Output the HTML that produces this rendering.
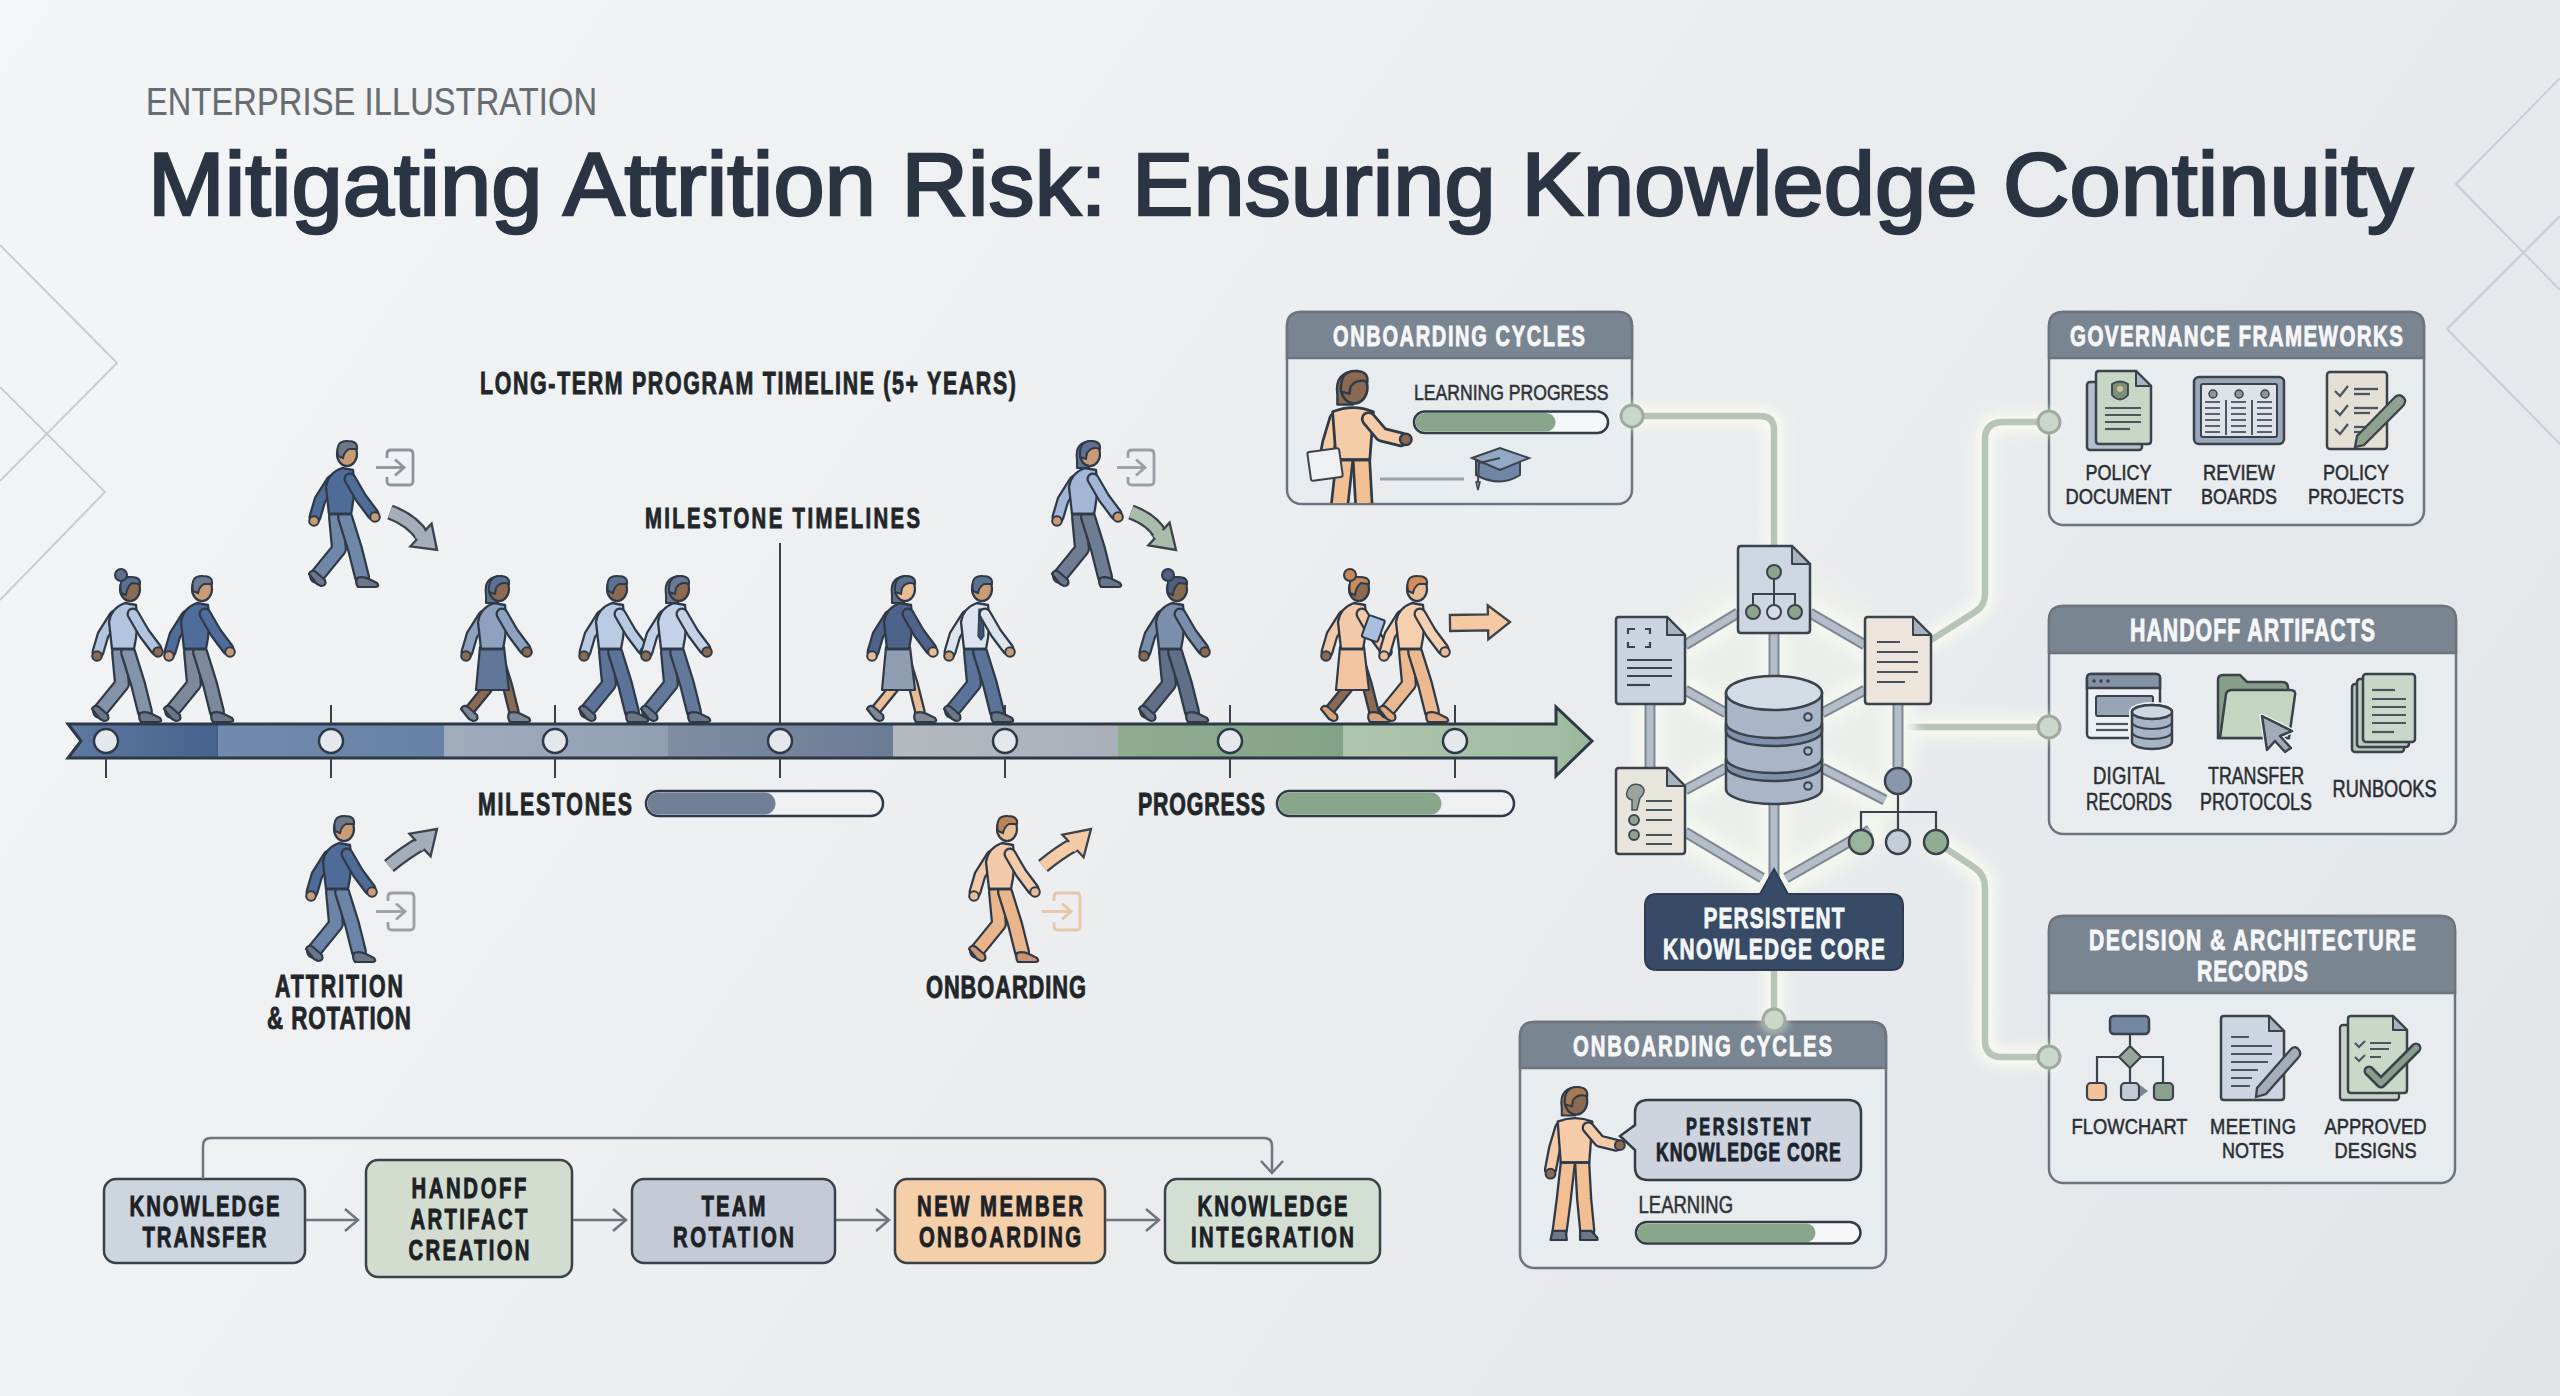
<!DOCTYPE html>
<html><head><meta charset="utf-8"><title>Mitigating Attrition Risk</title>
<style>html,body{margin:0;padding:0;background:#eceef1;}svg{display:block;font-family:"Liberation Sans", sans-serif;}</style>
</head><body>
<svg width="2560" height="1396" viewBox="0 0 2560 1396">
<defs>
<linearGradient id="bg" gradientUnits="userSpaceOnUse" x1="0" y1="0" x2="2365" y2="1667">
 <stop offset="0" stop-color="#f4f5f6"/><stop offset="1" stop-color="#e2e5e8"/>
</linearGradient>
<filter id="glow" filterUnits="userSpaceOnUse" x="0" y="0" width="2560" height="1396"><feGaussianBlur stdDeviation="6"/></filter>
<filter id="soft" filterUnits="userSpaceOnUse" x="0" y="0" width="2560" height="1396"><feGaussianBlur stdDeviation="3"/></filter>
</defs>
<rect x="0" y="0" width="2560" height="1396" fill="url(#bg)"/>
<g fill="none" stroke="#c9cdd2" stroke-width="2"><polyline points="0,245 117,363 0,481"/><polyline points="0,387 105,492 0,600"/><polyline points="2560,78 2456,184 2560,290"/><polyline points="2560,216 2447,329 2560,444"/></g>
<text transform="translate(146.0,115.3) scale(0.8527,1)" x="0" y="0" font-size="38.23" font-weight="normal" fill="#666c72" stroke="#666c72" stroke-width="0.2" textLength="528.9" lengthAdjust="spacing" >ENTERPRISE ILLUSTRATION</text>
<text transform="translate(148.0,215.3) scale(1.0257,1)" x="0" y="0" font-size="89.68" font-weight="normal" fill="#2a3443" stroke="#2a3443" stroke-width="2.6" textLength="2208.2" lengthAdjust="spacing" >Mitigating Attrition Risk: Ensuring Knowledge Continuity</text>
<text transform="translate(480.0,394.0) scale(0.7000,1)" x="0" y="0" font-size="30.52" font-weight="bold" fill="#222629" stroke="#222629" stroke-width="0.9" textLength="765.7" lengthAdjust="spacing" >LONG-TERM PROGRAM TIMELINE (5+ YEARS)</text>
<text transform="translate(645.0,528.0) scale(0.7000,1)" x="0" y="0" font-size="29.07" font-weight="bold" fill="#222629" stroke="#222629" stroke-width="0.9" textLength="392.9" lengthAdjust="spacing" >MILESTONE TIMELINES</text>
<line x1="780" y1="543" x2="780" y2="724" stroke="#3a4049" stroke-width="2"/>
<defs><linearGradient id="sg0" x1="0" y1="0" x2="1" y2="0"><stop offset="0" stop-color="#5f79a1"/><stop offset="1" stop-color="#46628c"/></linearGradient><linearGradient id="sg1" x1="0" y1="0" x2="1" y2="0"><stop offset="0" stop-color="#718aae"/><stop offset="1" stop-color="#6882a6"/></linearGradient><linearGradient id="sg2" x1="0" y1="0" x2="1" y2="0"><stop offset="0" stop-color="#a0adbd"/><stop offset="1" stop-color="#909fb4"/></linearGradient><linearGradient id="sg3" x1="0" y1="0" x2="1" y2="0"><stop offset="0" stop-color="#7e8da2"/><stop offset="1" stop-color="#6b7c95"/></linearGradient><linearGradient id="sg4" x1="0" y1="0" x2="1" y2="0"><stop offset="0" stop-color="#b5bac0"/><stop offset="1" stop-color="#a9b0b9"/></linearGradient><linearGradient id="sg5" x1="0" y1="0" x2="1" y2="0"><stop offset="0" stop-color="#8fac91"/><stop offset="1" stop-color="#83a386"/></linearGradient><linearGradient id="sg6" x1="0" y1="0" x2="1" y2="0"><stop offset="0" stop-color="#adc5ad"/><stop offset="1" stop-color="#a2bda3"/></linearGradient><linearGradient id="sgh" x1="0" y1="0" x2="1" y2="0"><stop offset="0" stop-color="#a2bda3"/><stop offset="1" stop-color="#98b599"/></linearGradient></defs>
<clipPath id="barclip"><path d="M68,724 L1556,724 L1556,707 L1592,741 L1556,776 L1556,758 L68,758 L81,741 Z"/></clipPath>
<g clip-path="url(#barclip)">
<rect x="68" y="700" width="151" height="80" fill="url(#sg0)"/>
<rect x="218" y="700" width="227" height="80" fill="url(#sg1)"/>
<rect x="444" y="700" width="225" height="80" fill="url(#sg2)"/>
<rect x="668" y="700" width="226" height="80" fill="url(#sg3)"/>
<rect x="893" y="700" width="226" height="80" fill="url(#sg4)"/>
<rect x="1118" y="700" width="226" height="80" fill="url(#sg5)"/>
<rect x="1343" y="700" width="214" height="80" fill="url(#sg6)"/>
<rect x="1556" y="700" width="40" height="80" fill="url(#sgh)"/>
</g>
<path d="M68,724 L1556,724 L1556,707 L1592,741 L1556,776 L1556,758 L68,758 L81,741 Z" fill="none" stroke="#2e3947" stroke-width="3" stroke-linejoin="miter"/>
<line x1="106" y1="758" x2="106" y2="778" stroke="#3a4049" stroke-width="2"/>
<circle cx="106" cy="741" r="12" fill="#e4e8ed" stroke="#2e3947" stroke-width="2.5"/>
<line x1="331" y1="758" x2="331" y2="778" stroke="#3a4049" stroke-width="2"/>
<line x1="331" y1="705" x2="331" y2="724" stroke="#3a4049" stroke-width="2"/>
<circle cx="331" cy="741" r="12" fill="#e4e8ed" stroke="#2e3947" stroke-width="2.5"/>
<line x1="555" y1="758" x2="555" y2="778" stroke="#3a4049" stroke-width="2"/>
<line x1="555" y1="705" x2="555" y2="724" stroke="#3a4049" stroke-width="2"/>
<circle cx="555" cy="741" r="12" fill="#e4e8ed" stroke="#2e3947" stroke-width="2.5"/>
<line x1="780" y1="758" x2="780" y2="778" stroke="#3a4049" stroke-width="2"/>
<circle cx="780" cy="741" r="12" fill="#e4e8ed" stroke="#2e3947" stroke-width="2.5"/>
<line x1="1005" y1="758" x2="1005" y2="778" stroke="#3a4049" stroke-width="2"/>
<line x1="1005" y1="705" x2="1005" y2="724" stroke="#3a4049" stroke-width="2"/>
<circle cx="1005" cy="741" r="12" fill="#e4e8ed" stroke="#2e3947" stroke-width="2.5"/>
<line x1="1230" y1="758" x2="1230" y2="778" stroke="#3a4049" stroke-width="2"/>
<line x1="1230" y1="705" x2="1230" y2="724" stroke="#3a4049" stroke-width="2"/>
<circle cx="1230" cy="741" r="12" fill="#e4e8ed" stroke="#2e3947" stroke-width="2.5"/>
<line x1="1455" y1="758" x2="1455" y2="778" stroke="#3a4049" stroke-width="2"/>
<line x1="1455" y1="705" x2="1455" y2="724" stroke="#3a4049" stroke-width="2"/>
<circle cx="1455" cy="741" r="12" fill="#e4e8ed" stroke="#2e3947" stroke-width="2.5"/>
<text transform="translate(478.0,815.0) scale(0.7000,1)" x="0" y="0" font-size="30.52" font-weight="bold" fill="#222629" stroke="#222629" stroke-width="0.9" textLength="220.0" lengthAdjust="spacing" >MILESTONES</text>
<rect x="646" y="791" width="237" height="25" rx="12.5" fill="#eef0f2" stroke="#2e3947" stroke-width="2.5"/>
<rect x="647.5" y="792.5" width="128" height="22" rx="11" fill="#6f8096"/>
<text transform="translate(1138.0,815.0) scale(0.7000,1)" x="0" y="0" font-size="30.52" font-weight="bold" fill="#222629" stroke="#222629" stroke-width="0.9" textLength="181.4" lengthAdjust="spacing" >PROGRESS</text>
<rect x="1277" y="791" width="237" height="25" rx="12.5" fill="#eef0f2" stroke="#2e3947" stroke-width="2.5"/>
<rect x="1278.5" y="792.5" width="163" height="22" rx="11" fill="#88a68a"/>
<text transform="translate(275.0,997.0) scale(0.7000,1)" x="0" y="0" font-size="30.52" font-weight="bold" fill="#222629" stroke="#222629" stroke-width="0.9" textLength="182.9" lengthAdjust="spacing" >ATTRITION</text>
<text transform="translate(267.0,1029.0) scale(0.7000,1)" x="0" y="0" font-size="31.98" font-weight="bold" fill="#222629" stroke="#222629" stroke-width="0.9" textLength="205.7" lengthAdjust="spacing" >&amp; ROTATION</text>
<text transform="translate(926.0,997.6) scale(0.7000,1)" x="0" y="0" font-size="31.25" font-weight="bold" fill="#222629" stroke="#222629" stroke-width="0.9" textLength="228.6" lengthAdjust="spacing" >ONBOARDING</text>
<rect x="104" y="1179" width="201" height="84" rx="12" fill="#cdd5df" stroke="#3a4149" stroke-width="2.5"/><text transform="translate(129.5,1215.5) scale(0.7000,1)" x="0" y="0" font-size="29.07" font-weight="bold" fill="#1c2126" stroke="#1c2126" stroke-width="0.9" textLength="214.3" lengthAdjust="spacing" >KNOWLEDGE</text><text transform="translate(142.5,1246.5) scale(0.7000,1)" x="0" y="0" font-size="29.07" font-weight="bold" fill="#1c2126" stroke="#1c2126" stroke-width="0.9" textLength="177.1" lengthAdjust="spacing" >TRANSFER</text>
<rect x="366" y="1160" width="206" height="117" rx="12" fill="#d2ddd0" stroke="#3a4149" stroke-width="2.5"/><text transform="translate(411.5,1197.5) scale(0.7000,1)" x="0" y="0" font-size="29.07" font-weight="bold" fill="#1c2126" stroke="#1c2126" stroke-width="0.9" textLength="164.3" lengthAdjust="spacing" >HANDOFF</text><text transform="translate(410.5,1228.5) scale(0.7000,1)" x="0" y="0" font-size="29.07" font-weight="bold" fill="#1c2126" stroke="#1c2126" stroke-width="0.9" textLength="167.1" lengthAdjust="spacing" >ARTIFACT</text><text transform="translate(408.5,1259.5) scale(0.7000,1)" x="0" y="0" font-size="29.07" font-weight="bold" fill="#1c2126" stroke="#1c2126" stroke-width="0.9" textLength="172.9" lengthAdjust="spacing" >CREATION</text>
<rect x="632" y="1179" width="203" height="84" rx="12" fill="#c4cbd7" stroke="#3a4149" stroke-width="2.5"/><text transform="translate(701.5,1215.5) scale(0.7000,1)" x="0" y="0" font-size="29.07" font-weight="bold" fill="#1c2126" stroke="#1c2126" stroke-width="0.9" textLength="91.4" lengthAdjust="spacing" >TEAM</text><text transform="translate(673.0,1246.5) scale(0.7000,1)" x="0" y="0" font-size="29.07" font-weight="bold" fill="#1c2126" stroke="#1c2126" stroke-width="0.9" textLength="172.9" lengthAdjust="spacing" >ROTATION</text>
<rect x="895" y="1179" width="210" height="84" rx="12" fill="#f5cfa9" stroke="#3a4149" stroke-width="2.5"/><text transform="translate(917.0,1215.5) scale(0.7000,1)" x="0" y="0" font-size="29.07" font-weight="bold" fill="#1c2126" stroke="#1c2126" stroke-width="0.9" textLength="237.1" lengthAdjust="spacing" >NEW MEMBER</text><text transform="translate(919.0,1246.5) scale(0.7000,1)" x="0" y="0" font-size="29.07" font-weight="bold" fill="#1c2126" stroke="#1c2126" stroke-width="0.9" textLength="231.4" lengthAdjust="spacing" >ONBOARDING</text>
<rect x="1165" y="1179" width="215" height="84" rx="12" fill="#d4dfd4" stroke="#3a4149" stroke-width="2.5"/><text transform="translate(1197.5,1215.5) scale(0.7000,1)" x="0" y="0" font-size="29.07" font-weight="bold" fill="#1c2126" stroke="#1c2126" stroke-width="0.9" textLength="214.3" lengthAdjust="spacing" >KNOWLEDGE</text><text transform="translate(1191.0,1246.5) scale(0.7000,1)" x="0" y="0" font-size="29.07" font-weight="bold" fill="#1c2126" stroke="#1c2126" stroke-width="0.9" textLength="232.9" lengthAdjust="spacing" >INTEGRATION</text>
<line x1="306" y1="1220" x2="358" y2="1220" stroke="#6e757d" stroke-width="2.5"/><polyline points="345,1209 358,1220 345,1231" fill="none" stroke="#6e757d" stroke-width="2.5"/>
<line x1="573" y1="1220" x2="626" y2="1220" stroke="#6e757d" stroke-width="2.5"/><polyline points="613,1209 626,1220 613,1231" fill="none" stroke="#6e757d" stroke-width="2.5"/>
<line x1="836" y1="1220" x2="889" y2="1220" stroke="#6e757d" stroke-width="2.5"/><polyline points="876,1209 889,1220 876,1231" fill="none" stroke="#6e757d" stroke-width="2.5"/>
<line x1="1106" y1="1220" x2="1159" y2="1220" stroke="#6e757d" stroke-width="2.5"/><polyline points="1146,1209 1159,1220 1146,1231" fill="none" stroke="#6e757d" stroke-width="2.5"/>
<path d="M203,1179 L203,1146 Q203,1138 211,1138 L1264,1138 Q1272,1138 1272,1146 L1272,1172" fill="none" stroke="#6e757d" stroke-width="2.5"/>
<polyline points="1261,1161 1272,1173 1283,1161" fill="none" stroke="#6e757d" stroke-width="2.5"/>
<rect x="1287" y="312" width="345" height="192" rx="14" fill="#e9ecef" stroke="#6c747d" stroke-width="2.5"/><path d="M1287,358 L1287,326 Q1287,312 1301,312 L1618,312 Q1632,312 1632,326 L1632,358 Z" fill="#7a8592" stroke="#6c747d" stroke-width="2.5"/><text transform="translate(1333.0,345.7) scale(0.7000,1)" x="0" y="0" font-size="28.63" font-weight="bold" fill="#f6f7f8" stroke="#f6f7f8" stroke-width="0.9" textLength="360.0" lengthAdjust="spacing" >ONBOARDING CYCLES</text>
<rect x="2049" y="312" width="375" height="213" rx="14" fill="#e9ecef" stroke="#6c747d" stroke-width="2.5"/><path d="M2049,358 L2049,326 Q2049,312 2063,312 L2410,312 Q2424,312 2424,326 L2424,358 Z" fill="#7a8592" stroke="#6c747d" stroke-width="2.5"/><text transform="translate(2070.0,346.0) scale(0.7000,1)" x="0" y="0" font-size="29.36" font-weight="bold" fill="#f6f7f8" stroke="#f6f7f8" stroke-width="0.9" textLength="475.7" lengthAdjust="spacing" >GOVERNANCE FRAMEWORKS</text>
<rect x="2049" y="606" width="407" height="228" rx="14" fill="#e9ecef" stroke="#6c747d" stroke-width="2.5"/><path d="M2049,653 L2049,620 Q2049,606 2063,606 L2442,606 Q2456,606 2456,620 L2456,653 Z" fill="#7a8592" stroke="#6c747d" stroke-width="2.5"/><text transform="translate(2130.0,641.0) scale(0.7000,1)" x="0" y="0" font-size="30.52" font-weight="bold" fill="#f6f7f8" stroke="#f6f7f8" stroke-width="0.9" textLength="350.0" lengthAdjust="spacing" >HANDOFF ARTIFACTS</text>
<rect x="2049" y="916" width="406" height="267" rx="14" fill="#e9ecef" stroke="#6c747d" stroke-width="2.5"/><path d="M2049,993 L2049,930 Q2049,916 2063,916 L2441,916 Q2455,916 2455,930 L2455,993 Z" fill="#7a8592" stroke="#6c747d" stroke-width="2.5"/><text transform="translate(2089.0,949.8) scale(0.7000,1)" x="0" y="0" font-size="30.23" font-weight="bold" fill="#f6f7f8" stroke="#f6f7f8" stroke-width="0.9" textLength="467.1" lengthAdjust="spacing" >DECISION &amp; ARCHITECTURE</text><text transform="translate(2197.0,980.6) scale(0.7000,1)" x="0" y="0" font-size="30.38" font-weight="bold" fill="#f6f7f8" stroke="#f6f7f8" stroke-width="0.9" textLength="158.6" lengthAdjust="spacing" >RECORDS</text>
<rect x="1520" y="1022" width="366" height="246" rx="14" fill="#e9ecef" stroke="#6c747d" stroke-width="2.5"/><path d="M1520,1068 L1520,1036 Q1520,1022 1534,1022 L1872,1022 Q1886,1022 1886,1036 L1886,1068 Z" fill="#7a8592" stroke="#6c747d" stroke-width="2.5"/><text transform="translate(1573.0,1056.0) scale(0.7000,1)" x="0" y="0" font-size="29.07" font-weight="bold" fill="#f6f7f8" stroke="#f6f7f8" stroke-width="0.9" textLength="370.0" lengthAdjust="spacing" >ONBOARDING CYCLES</text>
<path d="M1632,416 L1760,416 Q1774,416 1774,430 L1774,546 M1931,640 L1975,612 Q1985,606 1985,594 L1985,440 Q1985,422 2003,422 L2049,422 M1910,727 L2049,727 M1936,842 L1975,868 Q1985,875 1985,888 L1985,1040 Q1985,1057 2002,1057 L2049,1057 M1774,968 L1774,1020" fill="none" stroke="#f7f9f0" stroke-width="22" stroke-linecap="round" opacity="0.95" filter="url(#glow)"/>
<path d="M1632,416 L1760,416 Q1774,416 1774,430 L1774,546 M1931,640 L1975,612 Q1985,606 1985,594 L1985,440 Q1985,422 2003,422 L2049,422 M1910,727 L2049,727 M1936,842 L1975,868 Q1985,875 1985,888 L1985,1040 Q1985,1057 2002,1057 L2049,1057 M1774,968 L1774,1020" fill="none" stroke="#b7c5b8" stroke-width="6.5" stroke-linecap="round"/>
<circle cx="1632" cy="416" r="11" fill="#ccd7cc" stroke="#9cab9c" stroke-width="3"/>
<circle cx="2049" cy="422" r="11" fill="#ccd7cc" stroke="#9cab9c" stroke-width="3"/>
<circle cx="2049" cy="727" r="11" fill="#ccd7cc" stroke="#9cab9c" stroke-width="3"/>
<circle cx="2049" cy="1057" r="11" fill="#ccd7cc" stroke="#9cab9c" stroke-width="3"/>
<circle cx="1774" cy="1020" r="11" fill="#ccd7cc" stroke="#9cab9c" stroke-width="3"/>
<ellipse cx="1774" cy="730" rx="140" ry="165" fill="#eef3ea" opacity="0.55" filter="url(#glow)"/>
<line x1="1685" y1="645" x2="1738" y2="613" stroke="#f5f8f0" stroke-width="32" stroke-linecap="round" opacity="0.85" filter="url(#glow)"/>
<line x1="1810" y1="613" x2="1865" y2="645" stroke="#f5f8f0" stroke-width="32" stroke-linecap="round" opacity="0.85" filter="url(#glow)"/>
<line x1="1774" y1="633" x2="1774" y2="676" stroke="#f5f8f0" stroke-width="32" stroke-linecap="round" opacity="0.85" filter="url(#glow)"/>
<line x1="1685" y1="690" x2="1726" y2="713" stroke="#f5f8f0" stroke-width="32" stroke-linecap="round" opacity="0.85" filter="url(#glow)"/>
<line x1="1822" y1="713" x2="1865" y2="690" stroke="#f5f8f0" stroke-width="32" stroke-linecap="round" opacity="0.85" filter="url(#glow)"/>
<line x1="1650" y1="704" x2="1650" y2="768" stroke="#f5f8f0" stroke-width="32" stroke-linecap="round" opacity="0.85" filter="url(#glow)"/>
<line x1="1898" y1="704" x2="1898" y2="767" stroke="#f5f8f0" stroke-width="32" stroke-linecap="round" opacity="0.85" filter="url(#glow)"/>
<line x1="1685" y1="790" x2="1726" y2="768" stroke="#f5f8f0" stroke-width="32" stroke-linecap="round" opacity="0.85" filter="url(#glow)"/>
<line x1="1822" y1="768" x2="1885" y2="800" stroke="#f5f8f0" stroke-width="32" stroke-linecap="round" opacity="0.85" filter="url(#glow)"/>
<line x1="1685" y1="832" x2="1762" y2="878" stroke="#f5f8f0" stroke-width="32" stroke-linecap="round" opacity="0.85" filter="url(#glow)"/>
<line x1="1786" y1="878" x2="1870" y2="830" stroke="#f5f8f0" stroke-width="32" stroke-linecap="round" opacity="0.85" filter="url(#glow)"/>
<line x1="1774" y1="805" x2="1774" y2="878" stroke="#f5f8f0" stroke-width="32" stroke-linecap="round" opacity="0.85" filter="url(#glow)"/>
<line x1="1685" y1="645" x2="1738" y2="613" stroke="#7d8793" stroke-width="11"/>
<line x1="1685" y1="645" x2="1738" y2="613" stroke="#b4bdc8" stroke-width="7"/>
<line x1="1810" y1="613" x2="1865" y2="645" stroke="#7d8793" stroke-width="11"/>
<line x1="1810" y1="613" x2="1865" y2="645" stroke="#b4bdc8" stroke-width="7"/>
<line x1="1774" y1="633" x2="1774" y2="676" stroke="#7d8793" stroke-width="11"/>
<line x1="1774" y1="633" x2="1774" y2="676" stroke="#b4bdc8" stroke-width="7"/>
<line x1="1685" y1="690" x2="1726" y2="713" stroke="#7d8793" stroke-width="11"/>
<line x1="1685" y1="690" x2="1726" y2="713" stroke="#b4bdc8" stroke-width="7"/>
<line x1="1822" y1="713" x2="1865" y2="690" stroke="#7d8793" stroke-width="11"/>
<line x1="1822" y1="713" x2="1865" y2="690" stroke="#b4bdc8" stroke-width="7"/>
<line x1="1650" y1="704" x2="1650" y2="768" stroke="#7d8793" stroke-width="11"/>
<line x1="1650" y1="704" x2="1650" y2="768" stroke="#b4bdc8" stroke-width="7"/>
<line x1="1898" y1="704" x2="1898" y2="767" stroke="#7d8793" stroke-width="11"/>
<line x1="1898" y1="704" x2="1898" y2="767" stroke="#b4bdc8" stroke-width="7"/>
<line x1="1685" y1="790" x2="1726" y2="768" stroke="#7d8793" stroke-width="11"/>
<line x1="1685" y1="790" x2="1726" y2="768" stroke="#b4bdc8" stroke-width="7"/>
<line x1="1822" y1="768" x2="1885" y2="800" stroke="#7d8793" stroke-width="11"/>
<line x1="1822" y1="768" x2="1885" y2="800" stroke="#b4bdc8" stroke-width="7"/>
<line x1="1685" y1="832" x2="1762" y2="878" stroke="#7d8793" stroke-width="11"/>
<line x1="1685" y1="832" x2="1762" y2="878" stroke="#b4bdc8" stroke-width="7"/>
<line x1="1786" y1="878" x2="1870" y2="830" stroke="#7d8793" stroke-width="11"/>
<line x1="1786" y1="878" x2="1870" y2="830" stroke="#b4bdc8" stroke-width="7"/>
<line x1="1774" y1="805" x2="1774" y2="878" stroke="#7d8793" stroke-width="11"/>
<line x1="1774" y1="805" x2="1774" y2="878" stroke="#b4bdc8" stroke-width="7"/>
<path d="M1741,546 L1792,546 L1810,564 L1810,630 Q1810,633 1807,633 L1741,633 Q1738,633 1738,630 L1738,549 Q1738,546 1741,546 Z" fill="#cdd6e1" stroke="#3a424c" stroke-width="2.5"/><path d="M1792,546 L1792,564 L1810,564 Z" fill="#a9b3c0" stroke="#3a424c" stroke-width="2" stroke-linejoin="round"/>
<g stroke="#3a424c" stroke-width="2" fill="none"><line x1="1774" y1="577" x2="1774" y2="594"/><polyline points="1753,611 1753,594 1795,594 1795,611"/><line x1="1774" y1="594" x2="1774" y2="611"/></g>
<circle cx="1774" cy="572" r="7" fill="#8aa58c" stroke="#3a424c" stroke-width="2"/>
<circle cx="1753" cy="612" r="7" fill="#8aa58c" stroke="#3a424c" stroke-width="2"/>
<circle cx="1774" cy="612" r="7" fill="#d6dde6" stroke="#3a424c" stroke-width="2"/>
<circle cx="1795" cy="612" r="7" fill="#8aa58c" stroke="#3a424c" stroke-width="2"/>
<path d="M1619,617 L1667,617 L1685,635 L1685,701 Q1685,704 1682,704 L1619,704 Q1616,704 1616,701 L1616,620 Q1616,617 1619,617 Z" fill="#cbd4df" stroke="#3a424c" stroke-width="2.5"/><path d="M1667,617 L1667,635 L1685,635 Z" fill="#a9b3c0" stroke="#3a424c" stroke-width="2" stroke-linejoin="round"/>
<g stroke="#3a424c" stroke-width="2.2" fill="none"><polyline points="1628,634 1628,629 1635,629"/><polyline points="1645,629 1650,629 1650,634"/><polyline points="1628,642 1628,647 1635,647"/><polyline points="1645,647 1650,647 1650,642"/><line x1="1627" y1="660" x2="1672" y2="660"/><line x1="1627" y1="668" x2="1672" y2="668"/><line x1="1627" y1="676" x2="1672" y2="676"/><line x1="1627" y1="685" x2="1650" y2="685"/></g>
<path d="M1868,617 L1913,617 L1931,635 L1931,701 Q1931,704 1928,704 L1868,704 Q1865,704 1865,701 L1865,620 Q1865,617 1868,617 Z" fill="#ede5dc" stroke="#3a424c" stroke-width="2.5"/><path d="M1913,617 L1913,635 L1931,635 Z" fill="#a9b3c0" stroke="#3a424c" stroke-width="2" stroke-linejoin="round"/>
<g stroke="#4a525b" stroke-width="2" fill="none"><line x1="1877" y1="642" x2="1900" y2="642"/><line x1="1877" y1="652" x2="1918" y2="652"/><line x1="1877" y1="662" x2="1918" y2="662"/><line x1="1877" y1="672" x2="1918" y2="672"/><line x1="1877" y1="682" x2="1905" y2="682"/></g>
<path d="M1619,768 L1667,768 L1685,786 L1685,851 Q1685,854 1682,854 L1619,854 Q1616,854 1616,851 L1616,771 Q1616,768 1619,768 Z" fill="#e8e5dc" stroke="#3a424c" stroke-width="2.5"/><path d="M1667,768 L1667,786 L1685,786 Z" fill="#a9b3c0" stroke="#3a424c" stroke-width="2" stroke-linejoin="round"/>
<path d="M1627,792 Q1630,782 1640,785 Q1648,790 1640,798 L1637,810 L1632,810 L1632,800 Q1625,798 1627,792 Z" fill="#9aa69a" stroke="#4a525b" stroke-width="1.5"/>
<circle cx="1634" cy="820" r="5" fill="#8fa090" stroke="#3a424c" stroke-width="1.8"/><circle cx="1634" cy="835" r="5" fill="#8fa090" stroke="#3a424c" stroke-width="1.8"/>
<g stroke="#4a525b" stroke-width="2" fill="none"><line x1="1646" y1="801" x2="1672" y2="801"/><line x1="1646" y1="810" x2="1672" y2="810"/><line x1="1646" y1="820" x2="1672" y2="820"/><line x1="1646" y1="835" x2="1672" y2="835"/><line x1="1646" y1="844" x2="1672" y2="844"/></g>
<path d="M1726,693 L1726,789 A48,15 0 0 0 1822,789 L1822,693 Z" fill="#a9b6c7" stroke="#3a424c" stroke-width="2.5"/>
<path d="M1726,723 A48,15 0 0 0 1822,723 L1822,731 A48,15 0 0 1 1726,731 Z" fill="#7f92ad" stroke="#3a424c" stroke-width="2.5"/>
<path d="M1726,758 A48,15 0 0 0 1822,758 L1822,766 A48,15 0 0 1 1726,766 Z" fill="#7f92ad" stroke="#3a424c" stroke-width="2.5"/>
<ellipse cx="1774" cy="693" rx="48" ry="17" fill="#d3dbe5" stroke="#3a424c" stroke-width="2.5"/>
<circle cx="1808" cy="717" r="3.8" fill="none" stroke="#3a424c" stroke-width="2"/>
<circle cx="1808" cy="751" r="3.8" fill="none" stroke="#3a424c" stroke-width="2"/>
<circle cx="1808" cy="786" r="3.8" fill="none" stroke="#3a424c" stroke-width="2"/>
<g stroke="#3a424c" stroke-width="2.2" fill="none"><line x1="1898" y1="795" x2="1898" y2="842"/><polyline points="1861,830 1861,812 1936,812 1936,830"/></g>
<circle cx="1898" cy="781" r="13" fill="#8997ad" stroke="#3a424c" stroke-width="2.5"/>
<circle cx="1861" cy="842" r="12" fill="#9bb59c" stroke="#3a424c" stroke-width="2.5"/>
<circle cx="1898" cy="842" r="12" fill="#c5cdda" stroke="#3a424c" stroke-width="2.5"/>
<circle cx="1936" cy="842" r="12" fill="#8fae91" stroke="#3a424c" stroke-width="2.5"/>
<path d="M1659,894 L1760,894 L1774,869 L1788,894 L1891,894 Q1903,894 1903,906 L1903,958 Q1903,970 1891,970 L1657,970 Q1645,970 1645,958 L1645,906 Q1645,894 1657,894 Z" fill="#374b66" stroke="#2e3c50" stroke-width="2"/>
<text transform="translate(1703.5,927.5) scale(0.7000,1)" x="0" y="0" font-size="29.80" font-weight="bold" fill="#f4f6f8" stroke="#f4f6f8" stroke-width="0.9" textLength="201.4" lengthAdjust="spacing" >PERSISTENT</text>
<text transform="translate(1663.0,958.5) scale(0.7000,1)" x="0" y="0" font-size="29.80" font-weight="bold" fill="#f4f6f8" stroke="#f4f6f8" stroke-width="0.9" textLength="317.1" lengthAdjust="spacing" >KNOWLEDGE CORE</text>
<text transform="translate(1414.0,400.0) scale(0.7807,1)" x="0" y="0" font-size="22.53" font-weight="normal" fill="#2f3338" stroke="#2f3338" stroke-width="0.55" textLength="249.1" lengthAdjust="spacing" >LEARNING PROGRESS</text>
<rect x="1414" y="411.5" width="194" height="21.5" rx="10.75" fill="#f6f7f8" stroke="#333b44" stroke-width="2.5"/>
<rect x="1415.5" y="413" width="140" height="18.5" rx="9.25" fill="#88a68a"/>
<line x1="1380" y1="479" x2="1464" y2="479" stroke="#9aa0a6" stroke-width="3"/>
<path d="M1476,461 L1476,475 Q1500,488 1520,475 L1520,461 Z" fill="#6f86a6" stroke="#3a424c" stroke-width="2"/>
<path d="M1472,458 L1500,448 L1529,458 L1500,470 Z" fill="#93a8c2" stroke="#3a424c" stroke-width="2"/>
<path d="M1500,458 L1479,463 L1478,482" fill="none" stroke="#3a424c" stroke-width="2"/><path d="M1476,482 L1480,482 L1478,490 Z" fill="#8aa" stroke="#3a424c" stroke-width="1.5"/>
<rect x="2087" y="382" width="55" height="68" rx="3" fill="#b4bfcd" stroke="#3a424c" stroke-width="2.5"/>
<path d="M2099,371 L2136,371 L2151,386 L2151,441 Q2151,444 2148,444 L2099,444 Q2096,444 2096,441 L2096,374 Q2096,371 2099,371 Z" fill="#c8d6c6" stroke="#3a424c" stroke-width="2.5"/><path d="M2136,371 L2136,386 L2151,386 Z" fill="#a9b6c6" stroke="#3a424c" stroke-width="2" stroke-linejoin="round"/>
<path d="M2112,384 Q2120,379 2128,384 L2128,395 Q2120,404 2112,395 Z" fill="#7b9079" stroke="#3a424c" stroke-width="1.8"/><circle cx="2120" cy="389" r="3" fill="#d8c090"/>
<g stroke="#4a5560" stroke-width="2.2"><line x1="2105" y1="408" x2="2141" y2="408"/><line x1="2105" y1="415" x2="2141" y2="415"/><line x1="2105" y1="422" x2="2141" y2="422"/><line x1="2105" y1="429" x2="2130" y2="429"/></g>
<rect x="2194" y="377" width="90" height="67" rx="5" fill="#9aa8b9" stroke="#3a424c" stroke-width="2.5"/>
<rect x="2201" y="384" width="76" height="53" rx="2" fill="#dfe3e9" stroke="#3a424c" stroke-width="2"/>
<g stroke="#4a5560" stroke-width="2"><line x1="2226" y1="400" x2="2226" y2="435"/><line x1="2252" y1="400" x2="2252" y2="435"/></g>
<circle cx="2213" cy="394" r="4" fill="#8d978f" stroke="#3a424c" stroke-width="1.5"/>
<circle cx="2239" cy="394" r="4" fill="#8d978f" stroke="#3a424c" stroke-width="1.5"/>
<circle cx="2265" cy="394" r="4" fill="#8d978f" stroke="#3a424c" stroke-width="1.5"/>
<g stroke="#4a5560" stroke-width="1.8"><line x1="2205" y1="402" x2="2220" y2="402"/><line x1="2205" y1="408" x2="2220" y2="408"/><line x1="2205" y1="414" x2="2220" y2="414"/><line x1="2205" y1="420" x2="2220" y2="420"/><line x1="2205" y1="426" x2="2220" y2="426"/><line x1="2205" y1="432" x2="2220" y2="432"/><line x1="2231" y1="402" x2="2246" y2="402"/><line x1="2231" y1="408" x2="2246" y2="408"/><line x1="2231" y1="414" x2="2246" y2="414"/><line x1="2231" y1="420" x2="2246" y2="420"/><line x1="2231" y1="426" x2="2246" y2="426"/><line x1="2231" y1="432" x2="2246" y2="432"/><line x1="2257" y1="402" x2="2272" y2="402"/><line x1="2257" y1="408" x2="2272" y2="408"/><line x1="2257" y1="414" x2="2272" y2="414"/><line x1="2257" y1="420" x2="2272" y2="420"/><line x1="2257" y1="426" x2="2272" y2="426"/><line x1="2257" y1="432" x2="2272" y2="432"/></g>
<rect x="2327" y="372" width="60" height="77" rx="3" fill="#e4e0d6" stroke="#3a424c" stroke-width="2.5"/>
<g fill="none" stroke="#4a5560" stroke-width="2.3"><polyline points="2335,391 2340,396 2348,386"/><line x1="2354" y1="389" x2="2378" y2="389"/><line x1="2354" y1="394" x2="2370" y2="394"/><polyline points="2335,410 2340,415 2348,405"/><line x1="2354" y1="408" x2="2378" y2="408"/><line x1="2354" y1="413" x2="2370" y2="413"/><polyline points="2335,429 2340,434 2348,424"/><line x1="2354" y1="427" x2="2378" y2="427"/><line x1="2354" y1="432" x2="2370" y2="432"/></g>
<path d="M2357,436 L2395,397 Q2400,393 2404,398 Q2407,402 2402,407 L2364,445 L2355,447 Z" fill="#8fa290" stroke="#3a424c" stroke-width="2.3"/>
<text transform="translate(2085.6,479.5) scale(0.7835,1)" x="0" y="0" font-size="22.97" font-weight="normal" fill="#2a2e33" stroke="#2a2e33" stroke-width="0.55" textLength="84.2" lengthAdjust="spacing" >POLICY</text>
<text transform="translate(2065.6,504.0) scale(0.7989,1)" x="0" y="0" font-size="22.97" font-weight="normal" fill="#2a2e33" stroke="#2a2e33" stroke-width="0.55" textLength="132.7" lengthAdjust="spacing" >DOCUMENT</text>
<text transform="translate(2203.0,479.5) scale(0.7948,1)" x="0" y="0" font-size="22.97" font-weight="normal" fill="#2a2e33" stroke="#2a2e33" stroke-width="0.55" textLength="90.6" lengthAdjust="spacing" >REVIEW</text>
<text transform="translate(2201.0,504.0) scale(0.7836,1)" x="0" y="0" font-size="22.97" font-weight="normal" fill="#2a2e33" stroke="#2a2e33" stroke-width="0.55" textLength="97.0" lengthAdjust="spacing" >BOARDS</text>
<text transform="translate(2323.0,479.5) scale(0.7835,1)" x="0" y="0" font-size="22.97" font-weight="normal" fill="#2a2e33" stroke="#2a2e33" stroke-width="0.55" textLength="84.2" lengthAdjust="spacing" >POLICY</text>
<text transform="translate(2308.0,504.0) scale(0.7837,1)" x="0" y="0" font-size="22.97" font-weight="normal" fill="#2a2e33" stroke="#2a2e33" stroke-width="0.55" textLength="122.5" lengthAdjust="spacing" >PROJECTS</text>
<rect x="2087" y="674" width="73" height="64" rx="4" fill="#eef0f2" stroke="#3a424c" stroke-width="2.5"/>
<path d="M2087,688 L2087,678 Q2087,674 2091,674 L2156,674 Q2160,674 2160,678 L2160,688 Z" fill="#8492a6" stroke="#3a424c" stroke-width="2.5"/>
<g fill="#3a424c"><circle cx="2094" cy="681" r="1.8"/><circle cx="2101" cy="681" r="1.8"/><circle cx="2108" cy="681" r="1.8"/></g>
<rect x="2096" y="696" width="57" height="20" rx="2" fill="#97a5b7" stroke="#3a424c" stroke-width="2"/>
<g stroke="#4a5560" stroke-width="2.2"><line x1="2096" y1="724" x2="2128" y2="724"/><line x1="2096" y1="730" x2="2128" y2="730"/></g>
<path d="M2132,712 A20,7 0 0 1 2172,712 L2172,742 A20,7 0 0 1 2132,742 Z" fill="#a7b4c5" stroke="#eef0f2" stroke-width="6"/>
<path d="M2132,712 A20,7 0 0 1 2172,712 L2172,742 A20,7 0 0 1 2132,742 Z" fill="#a7b4c5" stroke="#3a424c" stroke-width="2.5"/>
<ellipse cx="2152" cy="712" rx="20" ry="7" fill="#cfd7e1" stroke="#3a424c" stroke-width="2.5"/>
<g fill="none" stroke="#3a424c" stroke-width="2.2"><path d="M2132,722 A20,7 0 0 0 2172,722"/><path d="M2132,732 A20,7 0 0 0 2172,732"/></g>
<path d="M2218,680 Q2218,675 2223,675 L2240,675 L2247,682 L2282,682 Q2288,682 2288,688 L2288,738 L2218,738 Z" fill="#879f88" stroke="#3a424c" stroke-width="2.5"/>
<path d="M2226,694 Q2227,690 2232,690 L2290,690 Q2296,690 2295,695 L2289,738 L2220,738 Z" fill="#c4d6c2" stroke="#3a424c" stroke-width="2.5"/>
<path d="M2262,716 L2292,731 L2280,736 L2291,748 L2285,752 L2275,741 L2267,750 Z" fill="#a3abb8" stroke="#f0f2f4" stroke-width="5" stroke-linejoin="round"/>
<path d="M2262,716 L2292,731 L2280,736 L2291,748 L2285,752 L2275,741 L2267,750 Z" fill="#a3abb8" stroke="#3a424c" stroke-width="2.5" stroke-linejoin="round"/>
<rect x="2352" y="684" width="52" height="68" rx="3" fill="#b6c4b6" stroke="#3a424c" stroke-width="2.5"/>
<rect x="2357" y="679" width="52" height="68" rx="3" fill="#bccbbc" stroke="#3a424c" stroke-width="2.5"/>
<rect x="2363" y="674" width="52" height="68" rx="3" fill="#c9d7c8" stroke="#3a424c" stroke-width="2.5"/>
<g stroke="#4a5560" stroke-width="2.2"><line x1="2372" y1="690" x2="2395" y2="690"/><line x1="2372" y1="699" x2="2406" y2="699"/><line x1="2372" y1="707" x2="2406" y2="707"/><line x1="2372" y1="715" x2="2406" y2="715"/><line x1="2372" y1="723" x2="2406" y2="723"/><line x1="2372" y1="732" x2="2394" y2="732"/></g>
<text transform="translate(2093.0,784.4) scale(0.7861,1)" x="0" y="0" font-size="23.55" font-weight="normal" fill="#2a2e33" stroke="#2a2e33" stroke-width="0.55" textLength="91.6" lengthAdjust="spacing" >DIGITAL</text>
<text transform="translate(2086.0,809.5) scale(0.7304,1)" x="0" y="0" font-size="23.55" font-weight="normal" fill="#2a2e33" stroke="#2a2e33" stroke-width="0.55" textLength="117.7" lengthAdjust="spacing" >RECORDS</text>
<text transform="translate(2208.0,784.4) scale(0.7565,1)" x="0" y="0" font-size="23.55" font-weight="normal" fill="#2a2e33" stroke="#2a2e33" stroke-width="0.55" textLength="126.9" lengthAdjust="spacing" >TRANSFER</text>
<text transform="translate(2200.0,809.5) scale(0.7576,1)" x="0" y="0" font-size="23.55" font-weight="normal" fill="#2a2e33" stroke="#2a2e33" stroke-width="0.55" textLength="147.8" lengthAdjust="spacing" >PROTOCOLS</text>
<text transform="translate(2332.6,797.0) scale(0.7717,1)" x="0" y="0" font-size="23.55" font-weight="normal" fill="#2a2e33" stroke="#2a2e33" stroke-width="0.55" textLength="134.8" lengthAdjust="spacing" >RUNBOOKS</text>
<g stroke="#3a424c" stroke-width="2.2" fill="none"><line x1="2130" y1="1032" x2="2130" y2="1045"/><polyline points="2097,1083 2097,1057 2163,1057 2163,1083"/><line x1="2130" y1="1068" x2="2130" y2="1083"/></g>
<rect x="2110" y="1016" width="39" height="18" rx="4" fill="#7487a3" stroke="#3a424c" stroke-width="2.5"/>
<path d="M2130,1046 L2141,1057 L2130,1068 L2119,1057 Z" fill="#99a597" stroke="#3a424c" stroke-width="2.2"/>
<rect x="2087" y="1083" width="19" height="17" rx="4" fill="#f1c39c" stroke="#3a424c" stroke-width="2.2"/>
<rect x="2121" y="1083" width="18" height="17" rx="4" fill="#c3cad6" stroke="#3a424c" stroke-width="2.2"/>
<path d="M2140,1085 L2148,1091 L2140,1097 Z" fill="#7c8590"/>
<rect x="2154" y="1083" width="19" height="17" rx="4" fill="#8aa28b" stroke="#3a424c" stroke-width="2.2"/>
<path d="M2224,1016 L2269,1016 L2284,1031 L2284,1097 Q2284,1100 2281,1100 L2224,1100 Q2221,1100 2221,1097 L2221,1019 Q2221,1016 2224,1016 Z" fill="#cdd5e0" stroke="#3a424c" stroke-width="2.5"/><path d="M2269,1016 L2269,1031 L2284,1031 Z" fill="#a9b3c0" stroke="#3a424c" stroke-width="2" stroke-linejoin="round"/>
<g stroke="#4a5560" stroke-width="2"><line x1="2231" y1="1037" x2="2249" y2="1037"/><line x1="2231" y1="1046" x2="2272" y2="1046"/><line x1="2231" y1="1054" x2="2272" y2="1054"/><line x1="2231" y1="1062" x2="2268" y2="1062"/><line x1="2231" y1="1070" x2="2258" y2="1070"/><line x1="2231" y1="1078" x2="2252" y2="1078"/><line x1="2231" y1="1086" x2="2250" y2="1086"/></g>
<path d="M2257,1088 L2291,1049 Q2296,1045 2299,1050 Q2302,1054 2298,1058 L2266,1094 L2256,1097 Z" fill="#a5adb8" stroke="#3a424c" stroke-width="2.3"/>
<rect x="2340" y="1025" width="59" height="75" rx="3" fill="#c7d3c6" stroke="#3a424c" stroke-width="2.3"/>
<path d="M2351,1016 L2393,1016 L2407,1030 L2407,1090 Q2407,1093 2404,1093 L2351,1093 Q2348,1093 2348,1090 L2348,1019 Q2348,1016 2351,1016 Z" fill="#c9d8c7" stroke="#3a424c" stroke-width="2.5"/><path d="M2393,1016 L2393,1030 L2407,1030 Z" fill="#a9b3c0" stroke="#3a424c" stroke-width="2" stroke-linejoin="round"/>
<g fill="none" stroke="#4a5560" stroke-width="2"><polyline points="2355,1043 2359,1047 2365,1041"/><polyline points="2355,1057 2359,1061 2365,1055"/><line x1="2370" y1="1043" x2="2391" y2="1043"/><line x1="2370" y1="1049" x2="2389" y2="1049"/><line x1="2370" y1="1057" x2="2381" y2="1057"/></g>
<path d="M2369,1071 L2381,1083 L2416,1048" fill="none" stroke="#3a424c" stroke-width="11" stroke-linecap="round" stroke-linejoin="round"/>
<path d="M2369,1071 L2381,1083 L2416,1048" fill="none" stroke="#8b9f8c" stroke-width="6" stroke-linecap="round" stroke-linejoin="round"/>
<text transform="translate(2071.6,1133.8) scale(0.7976,1)" x="0" y="0" font-size="22.97" font-weight="normal" fill="#2a2e33" stroke="#2a2e33" stroke-width="0.55" textLength="145.4" lengthAdjust="spacing" >FLOWCHART</text>
<text transform="translate(2210.0,1133.8) scale(0.8000,1)" x="0" y="0" font-size="22.97" font-weight="normal" fill="#2a2e33" stroke="#2a2e33" stroke-width="0.55" textLength="107.5" lengthAdjust="spacing" >MEETING</text>
<text transform="translate(2222.0,1157.8) scale(0.7837,1)" x="0" y="0" font-size="22.97" font-weight="normal" fill="#2a2e33" stroke="#2a2e33" stroke-width="0.55" textLength="79.1" lengthAdjust="spacing" >NOTES</text>
<text transform="translate(2324.6,1133.8) scale(0.7992,1)" x="0" y="0" font-size="22.97" font-weight="normal" fill="#2a2e33" stroke="#2a2e33" stroke-width="0.55" textLength="127.6" lengthAdjust="spacing" >APPROVED</text>
<text transform="translate(2334.6,1157.8) scale(0.7933,1)" x="0" y="0" font-size="22.97" font-weight="normal" fill="#2a2e33" stroke="#2a2e33" stroke-width="0.55" textLength="103.4" lengthAdjust="spacing" >DESIGNS</text>
<path d="M1648,1100 L1848,1100 Q1861,1100 1861,1113 L1861,1167 Q1861,1180 1848,1180 L1648,1180 Q1635,1180 1635,1167 L1635,1150 L1620,1136 L1635,1125 L1635,1113 Q1635,1100 1648,1100 Z" fill="#cdd4de" stroke="#333b44" stroke-width="2.5"/>
<text transform="translate(1686.0,1134.5) scale(0.7000,1)" x="0" y="0" font-size="23.26" font-weight="bold" fill="#1c2430" stroke="#1c2430" stroke-width="0.9" textLength="178.0" lengthAdjust="spacing" >PERSISTENT</text>
<text transform="translate(1656.0,1161.0) scale(0.7000,1)" x="0" y="0" font-size="25.15" font-weight="bold" fill="#1c2430" stroke="#1c2430" stroke-width="0.9" textLength="263.9" lengthAdjust="spacing" >KNOWLEDGE CORE</text>
<text transform="translate(1638.6,1212.5) scale(0.7699,1)" x="0" y="0" font-size="23.98" font-weight="normal" fill="#2f3338" stroke="#2f3338" stroke-width="0.55" textLength="122.6" lengthAdjust="spacing" >LEARNING</text>
<rect x="1636" y="1222" width="224.5" height="21.6" rx="10.8" fill="#f6f7f8" stroke="#333b44" stroke-width="2.5"/>
<rect x="1637.5" y="1223.5" width="178" height="18.6" rx="9.3" fill="#88a68a"/>
<g transform="translate(128,722) scale(1.0)"><path d="M-13,-106 L-25,-87 L-30,-70" fill="none" stroke="#2f3a48" stroke-width="13.0" stroke-linecap="round" stroke-linejoin="round"/><path d="M-13,-106 L-25,-87 L-30,-70" fill="none" stroke="#b3c5de" stroke-width="8.5" stroke-linecap="round" stroke-linejoin="round"/><circle cx="-31" cy="-66" r="4.8" fill="#8c6a52" stroke="#2f3a48" stroke-width="2"/><path d="M-9,-70 L-6,-38 L-28,-11" fill="none" stroke="#2f3a48" stroke-width="16.0" stroke-linecap="round" stroke-linejoin="round"/><path d="M-9,-70 L-6,-38 L-28,-11" fill="none" stroke="#8393a8" stroke-width="11.5" stroke-linecap="round" stroke-linejoin="round"/><path d="M-36,-13 Q-34,-18 -29,-15 L-20,-7 Q-18,-1 -24,-1 L-28,-3 Z" fill="#6b7688" stroke="#2f3a48" stroke-width="2.2" stroke-linejoin="round"/><path d="M0,-70 L10,-38 L17,-10" fill="none" stroke="#2f3a48" stroke-width="16.0" stroke-linecap="round" stroke-linejoin="round"/><path d="M0,-70 L10,-38 L17,-10" fill="none" stroke="#8393a8" stroke-width="11.5" stroke-linecap="round" stroke-linejoin="round"/><path d="M12,-9 Q18,-11 24,-8 L32,-4 Q35,0 30,0 L13,0 Q10,-4 12,-9 Z" fill="#6b7688" stroke="#2f3a48" stroke-width="2.2" stroke-linejoin="round"/><path d="M-19,-100 Q-17,-114 -3,-119 L8,-117 Q11,-95 6,-73 L-16,-73 Z" fill="#b3c5de" stroke="#2f3a48" stroke-width="2.3" stroke-linejoin="round"/><line x1="-16" y1="-73" x2="6" y2="-73" stroke="#2f3a48" stroke-width="2.5"/><path d="M5,-108 L16,-89 L28,-73" fill="none" stroke="#2f3a48" stroke-width="13.0" stroke-linecap="round" stroke-linejoin="round"/><path d="M5,-108 L16,-89 L28,-73" fill="none" stroke="#b3c5de" stroke-width="8.5" stroke-linecap="round" stroke-linejoin="round"/><circle cx="30" cy="-70" r="4.8" fill="#8c6a52" stroke="#2f3a48" stroke-width="2"/><ellipse cx="2" cy="-133" rx="10" ry="12" fill="#8c6a52" stroke="#2f3a48" stroke-width="2.2"/><path d="M-7,-129 Q-10,-146 3,-145 Q13,-145 12,-138 L4,-139 Q-1,-135 -2,-127 Z" fill="#5b6f8f" stroke="#2f3a48" stroke-width="2"/><circle cx="-7" cy="-147" r="6" fill="#5b6f8f" stroke="#2f3a48" stroke-width="2"/></g>
<g transform="translate(200,722) scale(1.0)"><path d="M-13,-106 L-25,-87 L-30,-70" fill="none" stroke="#2f3a48" stroke-width="13.0" stroke-linecap="round" stroke-linejoin="round"/><path d="M-13,-106 L-25,-87 L-30,-70" fill="none" stroke="#4f6c9b" stroke-width="8.5" stroke-linecap="round" stroke-linejoin="round"/><circle cx="-31" cy="-66" r="4.8" fill="#c99c76" stroke="#2f3a48" stroke-width="2"/><path d="M-9,-70 L-6,-38 L-28,-11" fill="none" stroke="#2f3a48" stroke-width="16.0" stroke-linecap="round" stroke-linejoin="round"/><path d="M-9,-70 L-6,-38 L-28,-11" fill="none" stroke="#7c899b" stroke-width="11.5" stroke-linecap="round" stroke-linejoin="round"/><path d="M-36,-13 Q-34,-18 -29,-15 L-20,-7 Q-18,-1 -24,-1 L-28,-3 Z" fill="#6b7688" stroke="#2f3a48" stroke-width="2.2" stroke-linejoin="round"/><path d="M0,-70 L10,-38 L17,-10" fill="none" stroke="#2f3a48" stroke-width="16.0" stroke-linecap="round" stroke-linejoin="round"/><path d="M0,-70 L10,-38 L17,-10" fill="none" stroke="#7c899b" stroke-width="11.5" stroke-linecap="round" stroke-linejoin="round"/><path d="M12,-9 Q18,-11 24,-8 L32,-4 Q35,0 30,0 L13,0 Q10,-4 12,-9 Z" fill="#6b7688" stroke="#2f3a48" stroke-width="2.2" stroke-linejoin="round"/><path d="M-19,-100 Q-17,-114 -3,-119 L8,-117 Q11,-95 6,-73 L-16,-73 Z" fill="#4f6c9b" stroke="#2f3a48" stroke-width="2.3" stroke-linejoin="round"/><line x1="-16" y1="-73" x2="6" y2="-73" stroke="#2f3a48" stroke-width="2.5"/><path d="M5,-108 L16,-89 L28,-73" fill="none" stroke="#2f3a48" stroke-width="13.0" stroke-linecap="round" stroke-linejoin="round"/><path d="M5,-108 L16,-89 L28,-73" fill="none" stroke="#4f6c9b" stroke-width="8.5" stroke-linecap="round" stroke-linejoin="round"/><circle cx="30" cy="-70" r="4.8" fill="#c99c76" stroke="#2f3a48" stroke-width="2"/><ellipse cx="2" cy="-133" rx="10" ry="12" fill="#c99c76" stroke="#2f3a48" stroke-width="2.2"/><path d="M-7,-131 Q-10,-147 3,-146 Q13,-146 12,-138 L4,-138 Q-1,-135 -2,-129 Z" fill="#6a7a92" stroke="#2f3a48" stroke-width="2"/></g>
<g transform="translate(497,722) scale(1.0)"><path d="M-13,-106 L-25,-87 L-30,-70" fill="none" stroke="#2f3a48" stroke-width="13.0" stroke-linecap="round" stroke-linejoin="round"/><path d="M-13,-106 L-25,-87 L-30,-70" fill="none" stroke="#8ea2c0" stroke-width="8.5" stroke-linecap="round" stroke-linejoin="round"/><circle cx="-31" cy="-66" r="4.8" fill="#8c6a52" stroke="#2f3a48" stroke-width="2"/><path d="M-9,-70 L-6,-38 L-28,-11" fill="none" stroke="#2f3a48" stroke-width="11.5" stroke-linecap="round" stroke-linejoin="round"/><path d="M-9,-70 L-6,-38 L-28,-11" fill="none" stroke="#8c6a52" stroke-width="7" stroke-linecap="round" stroke-linejoin="round"/><path d="M-36,-13 Q-34,-18 -29,-15 L-20,-7 Q-18,-1 -24,-1 L-28,-3 Z" fill="#7d8796" stroke="#2f3a48" stroke-width="2.2" stroke-linejoin="round"/><path d="M0,-70 L10,-38 L17,-10" fill="none" stroke="#2f3a48" stroke-width="11.5" stroke-linecap="round" stroke-linejoin="round"/><path d="M0,-70 L10,-38 L17,-10" fill="none" stroke="#8c6a52" stroke-width="7" stroke-linecap="round" stroke-linejoin="round"/><path d="M12,-9 Q18,-11 24,-8 L32,-4 Q35,0 30,0 L13,0 Q10,-4 12,-9 Z" fill="#7d8796" stroke="#2f3a48" stroke-width="2.2" stroke-linejoin="round"/><path d="M-17,-75 L7,-75 L12,-32 L-21,-32 Z" fill="#60779a" stroke="#2f3a48" stroke-width="2.2" stroke-linejoin="round"/><path d="M-19,-100 Q-17,-114 -3,-119 L8,-117 Q11,-95 6,-73 L-16,-73 Z" fill="#8ea2c0" stroke="#2f3a48" stroke-width="2.3" stroke-linejoin="round"/><line x1="-16" y1="-73" x2="6" y2="-73" stroke="#2f3a48" stroke-width="2.5"/><path d="M5,-108 L16,-89 L28,-73" fill="none" stroke="#2f3a48" stroke-width="13.0" stroke-linecap="round" stroke-linejoin="round"/><path d="M5,-108 L16,-89 L28,-73" fill="none" stroke="#8ea2c0" stroke-width="8.5" stroke-linecap="round" stroke-linejoin="round"/><circle cx="30" cy="-70" r="4.8" fill="#8c6a52" stroke="#2f3a48" stroke-width="2"/><path d="M5,-146 Q-14,-146 -11,-127 L-11,-119 L1,-119 L2,-133 Z" fill="#5d7191" stroke="#2f3a48" stroke-width="2" stroke-linejoin="round"/><ellipse cx="2" cy="-133" rx="10" ry="12" fill="#8c6a52" stroke="#2f3a48" stroke-width="2.2"/><path d="M-8,-130 Q-9,-146 3,-146 Q13,-146 12,-138 Q4,-141 -1,-134 L-2,-128 Z" fill="#5d7191" stroke="#2f3a48" stroke-width="2"/></g>
<g transform="translate(615,722) scale(1.0)"><path d="M-13,-106 L-25,-87 L-30,-70" fill="none" stroke="#2f3a48" stroke-width="13.0" stroke-linecap="round" stroke-linejoin="round"/><path d="M-13,-106 L-25,-87 L-30,-70" fill="none" stroke="#b9cbe3" stroke-width="8.5" stroke-linecap="round" stroke-linejoin="round"/><circle cx="-31" cy="-66" r="4.8" fill="#8c6a52" stroke="#2f3a48" stroke-width="2"/><path d="M-9,-70 L-6,-38 L-28,-11" fill="none" stroke="#2f3a48" stroke-width="16.0" stroke-linecap="round" stroke-linejoin="round"/><path d="M-9,-70 L-6,-38 L-28,-11" fill="none" stroke="#5b7299" stroke-width="11.5" stroke-linecap="round" stroke-linejoin="round"/><path d="M-36,-13 Q-34,-18 -29,-15 L-20,-7 Q-18,-1 -24,-1 L-28,-3 Z" fill="#6b7688" stroke="#2f3a48" stroke-width="2.2" stroke-linejoin="round"/><path d="M0,-70 L10,-38 L17,-10" fill="none" stroke="#2f3a48" stroke-width="16.0" stroke-linecap="round" stroke-linejoin="round"/><path d="M0,-70 L10,-38 L17,-10" fill="none" stroke="#5b7299" stroke-width="11.5" stroke-linecap="round" stroke-linejoin="round"/><path d="M12,-9 Q18,-11 24,-8 L32,-4 Q35,0 30,0 L13,0 Q10,-4 12,-9 Z" fill="#6b7688" stroke="#2f3a48" stroke-width="2.2" stroke-linejoin="round"/><path d="M-19,-100 Q-17,-114 -3,-119 L8,-117 Q11,-95 6,-73 L-16,-73 Z" fill="#b9cbe3" stroke="#2f3a48" stroke-width="2.3" stroke-linejoin="round"/><line x1="-16" y1="-73" x2="6" y2="-73" stroke="#2f3a48" stroke-width="2.5"/><path d="M5,-108 L16,-89 L28,-73" fill="none" stroke="#2f3a48" stroke-width="13.0" stroke-linecap="round" stroke-linejoin="round"/><path d="M5,-108 L16,-89 L28,-73" fill="none" stroke="#b9cbe3" stroke-width="8.5" stroke-linecap="round" stroke-linejoin="round"/><circle cx="30" cy="-70" r="4.8" fill="#8c6a52" stroke="#2f3a48" stroke-width="2"/><ellipse cx="2" cy="-133" rx="10" ry="12" fill="#8c6a52" stroke="#2f3a48" stroke-width="2.2"/><path d="M-7,-131 Q-10,-147 3,-146 Q13,-146 12,-138 L4,-138 Q-1,-135 -2,-129 Z" fill="#5d7191" stroke="#2f3a48" stroke-width="2"/></g>
<g transform="translate(677,722) scale(1.0)"><path d="M-13,-106 L-25,-87 L-30,-70" fill="none" stroke="#2f3a48" stroke-width="13.0" stroke-linecap="round" stroke-linejoin="round"/><path d="M-13,-106 L-25,-87 L-30,-70" fill="none" stroke="#c3d2e7" stroke-width="8.5" stroke-linecap="round" stroke-linejoin="round"/><circle cx="-31" cy="-66" r="4.8" fill="#8c6a52" stroke="#2f3a48" stroke-width="2"/><path d="M-9,-70 L-6,-38 L-28,-11" fill="none" stroke="#2f3a48" stroke-width="16.0" stroke-linecap="round" stroke-linejoin="round"/><path d="M-9,-70 L-6,-38 L-28,-11" fill="none" stroke="#62799c" stroke-width="11.5" stroke-linecap="round" stroke-linejoin="round"/><path d="M-36,-13 Q-34,-18 -29,-15 L-20,-7 Q-18,-1 -24,-1 L-28,-3 Z" fill="#6b7688" stroke="#2f3a48" stroke-width="2.2" stroke-linejoin="round"/><path d="M0,-70 L10,-38 L17,-10" fill="none" stroke="#2f3a48" stroke-width="16.0" stroke-linecap="round" stroke-linejoin="round"/><path d="M0,-70 L10,-38 L17,-10" fill="none" stroke="#62799c" stroke-width="11.5" stroke-linecap="round" stroke-linejoin="round"/><path d="M12,-9 Q18,-11 24,-8 L32,-4 Q35,0 30,0 L13,0 Q10,-4 12,-9 Z" fill="#6b7688" stroke="#2f3a48" stroke-width="2.2" stroke-linejoin="round"/><path d="M-19,-100 Q-17,-114 -3,-119 L8,-117 Q11,-95 6,-73 L-16,-73 Z" fill="#c3d2e7" stroke="#2f3a48" stroke-width="2.3" stroke-linejoin="round"/><line x1="-16" y1="-73" x2="6" y2="-73" stroke="#2f3a48" stroke-width="2.5"/><path d="M5,-108 L16,-89 L28,-73" fill="none" stroke="#2f3a48" stroke-width="13.0" stroke-linecap="round" stroke-linejoin="round"/><path d="M5,-108 L16,-89 L28,-73" fill="none" stroke="#c3d2e7" stroke-width="8.5" stroke-linecap="round" stroke-linejoin="round"/><circle cx="30" cy="-70" r="4.8" fill="#8c6a52" stroke="#2f3a48" stroke-width="2"/><path d="M5,-146 Q-14,-146 -11,-127 L-11,-119 L1,-119 L2,-133 Z" fill="#6a7a92" stroke="#2f3a48" stroke-width="2" stroke-linejoin="round"/><ellipse cx="2" cy="-133" rx="10" ry="12" fill="#8c6a52" stroke="#2f3a48" stroke-width="2.2"/><path d="M-8,-130 Q-9,-146 3,-146 Q13,-146 12,-138 Q4,-141 -1,-134 L-2,-128 Z" fill="#6a7a92" stroke="#2f3a48" stroke-width="2"/></g>
<g transform="translate(903,722) scale(1.0)"><path d="M-13,-106 L-25,-87 L-30,-70" fill="none" stroke="#2f3a48" stroke-width="13.0" stroke-linecap="round" stroke-linejoin="round"/><path d="M-13,-106 L-25,-87 L-30,-70" fill="none" stroke="#4d6389" stroke-width="8.5" stroke-linecap="round" stroke-linejoin="round"/><circle cx="-31" cy="-66" r="4.8" fill="#e9bd96" stroke="#2f3a48" stroke-width="2"/><path d="M-9,-70 L-6,-38 L-28,-11" fill="none" stroke="#2f3a48" stroke-width="11.5" stroke-linecap="round" stroke-linejoin="round"/><path d="M-9,-70 L-6,-38 L-28,-11" fill="none" stroke="#e9bd96" stroke-width="7" stroke-linecap="round" stroke-linejoin="round"/><path d="M-36,-13 Q-34,-18 -29,-15 L-20,-7 Q-18,-1 -24,-1 L-28,-3 Z" fill="#7d8796" stroke="#2f3a48" stroke-width="2.2" stroke-linejoin="round"/><path d="M0,-70 L10,-38 L17,-10" fill="none" stroke="#2f3a48" stroke-width="11.5" stroke-linecap="round" stroke-linejoin="round"/><path d="M0,-70 L10,-38 L17,-10" fill="none" stroke="#e9bd96" stroke-width="7" stroke-linecap="round" stroke-linejoin="round"/><path d="M12,-9 Q18,-11 24,-8 L32,-4 Q35,0 30,0 L13,0 Q10,-4 12,-9 Z" fill="#7d8796" stroke="#2f3a48" stroke-width="2.2" stroke-linejoin="round"/><path d="M-17,-75 L7,-75 L12,-32 L-21,-32 Z" fill="#8e9db2" stroke="#2f3a48" stroke-width="2.2" stroke-linejoin="round"/><path d="M-19,-100 Q-17,-114 -3,-119 L8,-117 Q11,-95 6,-73 L-16,-73 Z" fill="#4d6389" stroke="#2f3a48" stroke-width="2.3" stroke-linejoin="round"/><line x1="-16" y1="-73" x2="6" y2="-73" stroke="#2f3a48" stroke-width="2.5"/><path d="M5,-108 L16,-89 L28,-73" fill="none" stroke="#2f3a48" stroke-width="13.0" stroke-linecap="round" stroke-linejoin="round"/><path d="M5,-108 L16,-89 L28,-73" fill="none" stroke="#4d6389" stroke-width="8.5" stroke-linecap="round" stroke-linejoin="round"/><circle cx="30" cy="-70" r="4.8" fill="#e9bd96" stroke="#2f3a48" stroke-width="2"/><path d="M5,-146 Q-14,-146 -11,-127 L-11,-119 L1,-119 L2,-133 Z" fill="#5a6d8c" stroke="#2f3a48" stroke-width="2" stroke-linejoin="round"/><ellipse cx="2" cy="-133" rx="10" ry="12" fill="#e9bd96" stroke="#2f3a48" stroke-width="2.2"/><path d="M-8,-130 Q-9,-146 3,-146 Q13,-146 12,-138 Q4,-141 -1,-134 L-2,-128 Z" fill="#5a6d8c" stroke="#2f3a48" stroke-width="2"/></g>
<g transform="translate(980,722) scale(1.0)"><path d="M-13,-106 L-25,-87 L-30,-70" fill="none" stroke="#2f3a48" stroke-width="13.0" stroke-linecap="round" stroke-linejoin="round"/><path d="M-13,-106 L-25,-87 L-30,-70" fill="none" stroke="#dde4ee" stroke-width="8.5" stroke-linecap="round" stroke-linejoin="round"/><circle cx="-31" cy="-66" r="4.8" fill="#c99c76" stroke="#2f3a48" stroke-width="2"/><path d="M-9,-70 L-6,-38 L-28,-11" fill="none" stroke="#2f3a48" stroke-width="16.0" stroke-linecap="round" stroke-linejoin="round"/><path d="M-9,-70 L-6,-38 L-28,-11" fill="none" stroke="#5b7299" stroke-width="11.5" stroke-linecap="round" stroke-linejoin="round"/><path d="M-36,-13 Q-34,-18 -29,-15 L-20,-7 Q-18,-1 -24,-1 L-28,-3 Z" fill="#6b7688" stroke="#2f3a48" stroke-width="2.2" stroke-linejoin="round"/><path d="M0,-70 L10,-38 L17,-10" fill="none" stroke="#2f3a48" stroke-width="16.0" stroke-linecap="round" stroke-linejoin="round"/><path d="M0,-70 L10,-38 L17,-10" fill="none" stroke="#5b7299" stroke-width="11.5" stroke-linecap="round" stroke-linejoin="round"/><path d="M12,-9 Q18,-11 24,-8 L32,-4 Q35,0 30,0 L13,0 Q10,-4 12,-9 Z" fill="#6b7688" stroke="#2f3a48" stroke-width="2.2" stroke-linejoin="round"/><path d="M-19,-100 Q-17,-114 -3,-119 L8,-117 Q11,-95 6,-73 L-16,-73 Z" fill="#dde4ee" stroke="#2f3a48" stroke-width="2.3" stroke-linejoin="round"/><line x1="-16" y1="-73" x2="6" y2="-73" stroke="#2f3a48" stroke-width="2.5"/><path d="M-1,-113 L3,-113 L4,-86 L1,-82 L-2,-86 Z" fill="#3e5070" stroke="#2f3a48" stroke-width="1.2"/><path d="M5,-108 L16,-89 L28,-73" fill="none" stroke="#2f3a48" stroke-width="13.0" stroke-linecap="round" stroke-linejoin="round"/><path d="M5,-108 L16,-89 L28,-73" fill="none" stroke="#dde4ee" stroke-width="8.5" stroke-linecap="round" stroke-linejoin="round"/><circle cx="30" cy="-70" r="4.8" fill="#c99c76" stroke="#2f3a48" stroke-width="2"/><ellipse cx="2" cy="-133" rx="10" ry="12" fill="#c99c76" stroke="#2f3a48" stroke-width="2.2"/><path d="M-7,-131 Q-10,-147 3,-146 Q13,-146 12,-138 L4,-138 Q-1,-135 -2,-129 Z" fill="#5d7191" stroke="#2f3a48" stroke-width="2"/></g>
<g transform="translate(1175,722) scale(1.0)"><path d="M-13,-106 L-25,-87 L-30,-70" fill="none" stroke="#2f3a48" stroke-width="13.0" stroke-linecap="round" stroke-linejoin="round"/><path d="M-13,-106 L-25,-87 L-30,-70" fill="none" stroke="#7b8fad" stroke-width="8.5" stroke-linecap="round" stroke-linejoin="round"/><circle cx="-31" cy="-66" r="4.8" fill="#8c6a52" stroke="#2f3a48" stroke-width="2"/><path d="M-9,-70 L-6,-38 L-28,-11" fill="none" stroke="#2f3a48" stroke-width="16.0" stroke-linecap="round" stroke-linejoin="round"/><path d="M-9,-70 L-6,-38 L-28,-11" fill="none" stroke="#5e6f86" stroke-width="11.5" stroke-linecap="round" stroke-linejoin="round"/><path d="M-36,-13 Q-34,-18 -29,-15 L-20,-7 Q-18,-1 -24,-1 L-28,-3 Z" fill="#6b7688" stroke="#2f3a48" stroke-width="2.2" stroke-linejoin="round"/><path d="M0,-70 L10,-38 L17,-10" fill="none" stroke="#2f3a48" stroke-width="16.0" stroke-linecap="round" stroke-linejoin="round"/><path d="M0,-70 L10,-38 L17,-10" fill="none" stroke="#5e6f86" stroke-width="11.5" stroke-linecap="round" stroke-linejoin="round"/><path d="M12,-9 Q18,-11 24,-8 L32,-4 Q35,0 30,0 L13,0 Q10,-4 12,-9 Z" fill="#6b7688" stroke="#2f3a48" stroke-width="2.2" stroke-linejoin="round"/><path d="M-19,-100 Q-17,-114 -3,-119 L8,-117 Q11,-95 6,-73 L-16,-73 Z" fill="#7b8fad" stroke="#2f3a48" stroke-width="2.3" stroke-linejoin="round"/><line x1="-16" y1="-73" x2="6" y2="-73" stroke="#2f3a48" stroke-width="2.5"/><path d="M5,-108 L16,-89 L28,-73" fill="none" stroke="#2f3a48" stroke-width="13.0" stroke-linecap="round" stroke-linejoin="round"/><path d="M5,-108 L16,-89 L28,-73" fill="none" stroke="#7b8fad" stroke-width="8.5" stroke-linecap="round" stroke-linejoin="round"/><circle cx="30" cy="-70" r="4.8" fill="#8c6a52" stroke="#2f3a48" stroke-width="2"/><ellipse cx="2" cy="-133" rx="10" ry="12" fill="#8c6a52" stroke="#2f3a48" stroke-width="2.2"/><path d="M-7,-129 Q-10,-146 3,-145 Q13,-145 12,-138 L4,-139 Q-1,-135 -2,-127 Z" fill="#4e5f7c" stroke="#2f3a48" stroke-width="2"/><circle cx="-7" cy="-147" r="6" fill="#4e5f7c" stroke="#2f3a48" stroke-width="2"/></g>
<g transform="translate(1357,722) scale(1.0)"><path d="M-13,-106 L-25,-87 L-30,-70" fill="none" stroke="#2f3a48" stroke-width="13.0" stroke-linecap="round" stroke-linejoin="round"/><path d="M-13,-106 L-25,-87 L-30,-70" fill="none" stroke="#f4c9a7" stroke-width="8.5" stroke-linecap="round" stroke-linejoin="round"/><circle cx="-31" cy="-66" r="4.8" fill="#8c6a52" stroke="#2f3a48" stroke-width="2"/><path d="M-9,-70 L-6,-38 L-28,-11" fill="none" stroke="#2f3a48" stroke-width="11.5" stroke-linecap="round" stroke-linejoin="round"/><path d="M-9,-70 L-6,-38 L-28,-11" fill="none" stroke="#8c6a52" stroke-width="7" stroke-linecap="round" stroke-linejoin="round"/><path d="M-36,-13 Q-34,-18 -29,-15 L-20,-7 Q-18,-1 -24,-1 L-28,-3 Z" fill="#d9a27a" stroke="#2f3a48" stroke-width="2.2" stroke-linejoin="round"/><path d="M0,-70 L10,-38 L17,-10" fill="none" stroke="#2f3a48" stroke-width="11.5" stroke-linecap="round" stroke-linejoin="round"/><path d="M0,-70 L10,-38 L17,-10" fill="none" stroke="#8c6a52" stroke-width="7" stroke-linecap="round" stroke-linejoin="round"/><path d="M12,-9 Q18,-11 24,-8 L32,-4 Q35,0 30,0 L13,0 Q10,-4 12,-9 Z" fill="#d9a27a" stroke="#2f3a48" stroke-width="2.2" stroke-linejoin="round"/><path d="M-17,-75 L7,-75 L12,-32 L-21,-32 Z" fill="#f2c49f" stroke="#2f3a48" stroke-width="2.2" stroke-linejoin="round"/><path d="M-19,-100 Q-17,-114 -3,-119 L8,-117 Q11,-95 6,-73 L-16,-73 Z" fill="#f4c9a7" stroke="#2f3a48" stroke-width="2.3" stroke-linejoin="round"/><line x1="-16" y1="-73" x2="6" y2="-73" stroke="#2f3a48" stroke-width="2.5"/><path d="M5,-108 L16,-89 L28,-73" fill="none" stroke="#2f3a48" stroke-width="13.0" stroke-linecap="round" stroke-linejoin="round"/><path d="M5,-108 L16,-89 L28,-73" fill="none" stroke="#f4c9a7" stroke-width="8.5" stroke-linecap="round" stroke-linejoin="round"/><circle cx="30" cy="-70" r="4.8" fill="#8c6a52" stroke="#2f3a48" stroke-width="2"/><ellipse cx="2" cy="-133" rx="10" ry="12" fill="#8c6a52" stroke="#2f3a48" stroke-width="2.2"/><path d="M-7,-129 Q-10,-146 3,-145 Q13,-145 12,-138 L4,-139 Q-1,-135 -2,-127 Z" fill="#c88a5a" stroke="#2f3a48" stroke-width="2"/><circle cx="-7" cy="-147" r="6" fill="#c88a5a" stroke="#2f3a48" stroke-width="2"/><rect x="8" y="-105" width="17" height="23" rx="2" transform="rotate(20 16 -94)" fill="#a9bfe0" stroke="#2f3a48" stroke-width="2"/></g>
<g transform="translate(1415,722) scale(1.0)"><path d="M-13,-106 L-25,-87 L-30,-70" fill="none" stroke="#2f3a48" stroke-width="13.0" stroke-linecap="round" stroke-linejoin="round"/><path d="M-13,-106 L-25,-87 L-30,-70" fill="none" stroke="#f6d0ae" stroke-width="8.5" stroke-linecap="round" stroke-linejoin="round"/><circle cx="-31" cy="-66" r="4.8" fill="#e9bd96" stroke="#2f3a48" stroke-width="2"/><path d="M-9,-70 L-6,-38 L-28,-11" fill="none" stroke="#2f3a48" stroke-width="16.0" stroke-linecap="round" stroke-linejoin="round"/><path d="M-9,-70 L-6,-38 L-28,-11" fill="none" stroke="#ebb98d" stroke-width="11.5" stroke-linecap="round" stroke-linejoin="round"/><path d="M-36,-13 Q-34,-18 -29,-15 L-20,-7 Q-18,-1 -24,-1 L-28,-3 Z" fill="#e0a87c" stroke="#2f3a48" stroke-width="2.2" stroke-linejoin="round"/><path d="M0,-70 L10,-38 L17,-10" fill="none" stroke="#2f3a48" stroke-width="16.0" stroke-linecap="round" stroke-linejoin="round"/><path d="M0,-70 L10,-38 L17,-10" fill="none" stroke="#ebb98d" stroke-width="11.5" stroke-linecap="round" stroke-linejoin="round"/><path d="M12,-9 Q18,-11 24,-8 L32,-4 Q35,0 30,0 L13,0 Q10,-4 12,-9 Z" fill="#e0a87c" stroke="#2f3a48" stroke-width="2.2" stroke-linejoin="round"/><path d="M-19,-100 Q-17,-114 -3,-119 L8,-117 Q11,-95 6,-73 L-16,-73 Z" fill="#f6d0ae" stroke="#2f3a48" stroke-width="2.3" stroke-linejoin="round"/><line x1="-16" y1="-73" x2="6" y2="-73" stroke="#2f3a48" stroke-width="2.5"/><path d="M5,-108 L16,-89 L28,-73" fill="none" stroke="#2f3a48" stroke-width="13.0" stroke-linecap="round" stroke-linejoin="round"/><path d="M5,-108 L16,-89 L28,-73" fill="none" stroke="#f6d0ae" stroke-width="8.5" stroke-linecap="round" stroke-linejoin="round"/><circle cx="30" cy="-70" r="4.8" fill="#e9bd96" stroke="#2f3a48" stroke-width="2"/><ellipse cx="2" cy="-133" rx="10" ry="12" fill="#e9bd96" stroke="#2f3a48" stroke-width="2.2"/><path d="M-7,-131 Q-10,-147 3,-146 Q13,-146 12,-138 L4,-138 Q-1,-135 -2,-129 Z" fill="#d28b5b" stroke="#2f3a48" stroke-width="2"/></g>
<g transform="translate(345,587) scale(1.0)"><path d="M-13,-106 L-25,-87 L-30,-70" fill="none" stroke="#2f3a48" stroke-width="13.0" stroke-linecap="round" stroke-linejoin="round"/><path d="M-13,-106 L-25,-87 L-30,-70" fill="none" stroke="#4f6b98" stroke-width="8.5" stroke-linecap="round" stroke-linejoin="round"/><circle cx="-31" cy="-66" r="4.8" fill="#c99c76" stroke="#2f3a48" stroke-width="2"/><path d="M-9,-70 L-6,-38 L-28,-11" fill="none" stroke="#2f3a48" stroke-width="16.0" stroke-linecap="round" stroke-linejoin="round"/><path d="M-9,-70 L-6,-38 L-28,-11" fill="none" stroke="#6f87a9" stroke-width="11.5" stroke-linecap="round" stroke-linejoin="round"/><path d="M-36,-13 Q-34,-18 -29,-15 L-20,-7 Q-18,-1 -24,-1 L-28,-3 Z" fill="#6b7688" stroke="#2f3a48" stroke-width="2.2" stroke-linejoin="round"/><path d="M0,-70 L10,-38 L17,-10" fill="none" stroke="#2f3a48" stroke-width="16.0" stroke-linecap="round" stroke-linejoin="round"/><path d="M0,-70 L10,-38 L17,-10" fill="none" stroke="#6f87a9" stroke-width="11.5" stroke-linecap="round" stroke-linejoin="round"/><path d="M12,-9 Q18,-11 24,-8 L32,-4 Q35,0 30,0 L13,0 Q10,-4 12,-9 Z" fill="#6b7688" stroke="#2f3a48" stroke-width="2.2" stroke-linejoin="round"/><path d="M-19,-100 Q-17,-114 -3,-119 L8,-117 Q11,-95 6,-73 L-16,-73 Z" fill="#4f6b98" stroke="#2f3a48" stroke-width="2.3" stroke-linejoin="round"/><line x1="-16" y1="-73" x2="6" y2="-73" stroke="#2f3a48" stroke-width="2.5"/><path d="M5,-108 L16,-89 L28,-73" fill="none" stroke="#2f3a48" stroke-width="13.0" stroke-linecap="round" stroke-linejoin="round"/><path d="M5,-108 L16,-89 L28,-73" fill="none" stroke="#4f6b98" stroke-width="8.5" stroke-linecap="round" stroke-linejoin="round"/><circle cx="30" cy="-70" r="4.8" fill="#c99c76" stroke="#2f3a48" stroke-width="2"/><ellipse cx="2" cy="-133" rx="10" ry="12" fill="#c99c76" stroke="#2f3a48" stroke-width="2.2"/><path d="M-7,-131 Q-10,-147 3,-146 Q13,-146 12,-138 L4,-138 Q-1,-135 -2,-129 Z" fill="#6c7888" stroke="#2f3a48" stroke-width="2"/></g>
<g transform="translate(1088,587) scale(1.0)"><path d="M-13,-106 L-25,-87 L-30,-70" fill="none" stroke="#2f3a48" stroke-width="13.0" stroke-linecap="round" stroke-linejoin="round"/><path d="M-13,-106 L-25,-87 L-30,-70" fill="none" stroke="#a2b7d7" stroke-width="8.5" stroke-linecap="round" stroke-linejoin="round"/><circle cx="-31" cy="-66" r="4.8" fill="#c99c76" stroke="#2f3a48" stroke-width="2"/><path d="M-9,-70 L-6,-38 L-28,-11" fill="none" stroke="#2f3a48" stroke-width="16.0" stroke-linecap="round" stroke-linejoin="round"/><path d="M-9,-70 L-6,-38 L-28,-11" fill="none" stroke="#6e7d91" stroke-width="11.5" stroke-linecap="round" stroke-linejoin="round"/><path d="M-36,-13 Q-34,-18 -29,-15 L-20,-7 Q-18,-1 -24,-1 L-28,-3 Z" fill="#6b7688" stroke="#2f3a48" stroke-width="2.2" stroke-linejoin="round"/><path d="M0,-70 L10,-38 L17,-10" fill="none" stroke="#2f3a48" stroke-width="16.0" stroke-linecap="round" stroke-linejoin="round"/><path d="M0,-70 L10,-38 L17,-10" fill="none" stroke="#6e7d91" stroke-width="11.5" stroke-linecap="round" stroke-linejoin="round"/><path d="M12,-9 Q18,-11 24,-8 L32,-4 Q35,0 30,0 L13,0 Q10,-4 12,-9 Z" fill="#6b7688" stroke="#2f3a48" stroke-width="2.2" stroke-linejoin="round"/><path d="M-19,-100 Q-17,-114 -3,-119 L8,-117 Q11,-95 6,-73 L-16,-73 Z" fill="#a2b7d7" stroke="#2f3a48" stroke-width="2.3" stroke-linejoin="round"/><line x1="-16" y1="-73" x2="6" y2="-73" stroke="#2f3a48" stroke-width="2.5"/><path d="M5,-108 L16,-89 L28,-73" fill="none" stroke="#2f3a48" stroke-width="13.0" stroke-linecap="round" stroke-linejoin="round"/><path d="M5,-108 L16,-89 L28,-73" fill="none" stroke="#a2b7d7" stroke-width="8.5" stroke-linecap="round" stroke-linejoin="round"/><circle cx="30" cy="-70" r="4.8" fill="#c99c76" stroke="#2f3a48" stroke-width="2"/><path d="M5,-146 Q-14,-146 -11,-127 L-11,-119 L1,-119 L2,-133 Z" fill="#5d7191" stroke="#2f3a48" stroke-width="2" stroke-linejoin="round"/><ellipse cx="2" cy="-133" rx="10" ry="12" fill="#c99c76" stroke="#2f3a48" stroke-width="2.2"/><path d="M-8,-130 Q-9,-146 3,-146 Q13,-146 12,-138 Q4,-141 -1,-134 L-2,-128 Z" fill="#5d7191" stroke="#2f3a48" stroke-width="2"/></g>
<g transform="translate(342,962) scale(1.0)"><path d="M-13,-106 L-25,-87 L-30,-70" fill="none" stroke="#2f3a48" stroke-width="13.0" stroke-linecap="round" stroke-linejoin="round"/><path d="M-13,-106 L-25,-87 L-30,-70" fill="none" stroke="#4f6b98" stroke-width="8.5" stroke-linecap="round" stroke-linejoin="round"/><circle cx="-31" cy="-66" r="4.8" fill="#c99c76" stroke="#2f3a48" stroke-width="2"/><path d="M-9,-70 L-6,-38 L-28,-11" fill="none" stroke="#2f3a48" stroke-width="16.0" stroke-linecap="round" stroke-linejoin="round"/><path d="M-9,-70 L-6,-38 L-28,-11" fill="none" stroke="#6b84a8" stroke-width="11.5" stroke-linecap="round" stroke-linejoin="round"/><path d="M-36,-13 Q-34,-18 -29,-15 L-20,-7 Q-18,-1 -24,-1 L-28,-3 Z" fill="#6b7688" stroke="#2f3a48" stroke-width="2.2" stroke-linejoin="round"/><path d="M0,-70 L10,-38 L17,-10" fill="none" stroke="#2f3a48" stroke-width="16.0" stroke-linecap="round" stroke-linejoin="round"/><path d="M0,-70 L10,-38 L17,-10" fill="none" stroke="#6b84a8" stroke-width="11.5" stroke-linecap="round" stroke-linejoin="round"/><path d="M12,-9 Q18,-11 24,-8 L32,-4 Q35,0 30,0 L13,0 Q10,-4 12,-9 Z" fill="#6b7688" stroke="#2f3a48" stroke-width="2.2" stroke-linejoin="round"/><path d="M-19,-100 Q-17,-114 -3,-119 L8,-117 Q11,-95 6,-73 L-16,-73 Z" fill="#4f6b98" stroke="#2f3a48" stroke-width="2.3" stroke-linejoin="round"/><line x1="-16" y1="-73" x2="6" y2="-73" stroke="#2f3a48" stroke-width="2.5"/><path d="M5,-108 L16,-89 L28,-73" fill="none" stroke="#2f3a48" stroke-width="13.0" stroke-linecap="round" stroke-linejoin="round"/><path d="M5,-108 L16,-89 L28,-73" fill="none" stroke="#4f6b98" stroke-width="8.5" stroke-linecap="round" stroke-linejoin="round"/><circle cx="30" cy="-70" r="4.8" fill="#c99c76" stroke="#2f3a48" stroke-width="2"/><ellipse cx="2" cy="-133" rx="10" ry="12" fill="#c99c76" stroke="#2f3a48" stroke-width="2.2"/><path d="M-7,-131 Q-10,-147 3,-146 Q13,-146 12,-138 L4,-138 Q-1,-135 -2,-129 Z" fill="#6c7888" stroke="#2f3a48" stroke-width="2"/></g>
<g transform="translate(1005,962) scale(1.0)"><path d="M-13,-106 L-25,-87 L-30,-70" fill="none" stroke="#2f3a48" stroke-width="13.0" stroke-linecap="round" stroke-linejoin="round"/><path d="M-13,-106 L-25,-87 L-30,-70" fill="none" stroke="#f4cba8" stroke-width="8.5" stroke-linecap="round" stroke-linejoin="round"/><circle cx="-31" cy="-66" r="4.8" fill="#e9bd96" stroke="#2f3a48" stroke-width="2"/><path d="M-9,-70 L-6,-38 L-28,-11" fill="none" stroke="#2f3a48" stroke-width="16.0" stroke-linecap="round" stroke-linejoin="round"/><path d="M-9,-70 L-6,-38 L-28,-11" fill="none" stroke="#eab58a" stroke-width="11.5" stroke-linecap="round" stroke-linejoin="round"/><path d="M-36,-13 Q-34,-18 -29,-15 L-20,-7 Q-18,-1 -24,-1 L-28,-3 Z" fill="#c99572" stroke="#2f3a48" stroke-width="2.2" stroke-linejoin="round"/><path d="M0,-70 L10,-38 L17,-10" fill="none" stroke="#2f3a48" stroke-width="16.0" stroke-linecap="round" stroke-linejoin="round"/><path d="M0,-70 L10,-38 L17,-10" fill="none" stroke="#eab58a" stroke-width="11.5" stroke-linecap="round" stroke-linejoin="round"/><path d="M12,-9 Q18,-11 24,-8 L32,-4 Q35,0 30,0 L13,0 Q10,-4 12,-9 Z" fill="#c99572" stroke="#2f3a48" stroke-width="2.2" stroke-linejoin="round"/><path d="M-19,-100 Q-17,-114 -3,-119 L8,-117 Q11,-95 6,-73 L-16,-73 Z" fill="#f4cba8" stroke="#2f3a48" stroke-width="2.3" stroke-linejoin="round"/><line x1="-16" y1="-73" x2="6" y2="-73" stroke="#2f3a48" stroke-width="2.5"/><path d="M5,-108 L16,-89 L28,-73" fill="none" stroke="#2f3a48" stroke-width="13.0" stroke-linecap="round" stroke-linejoin="round"/><path d="M5,-108 L16,-89 L28,-73" fill="none" stroke="#f4cba8" stroke-width="8.5" stroke-linecap="round" stroke-linejoin="round"/><circle cx="30" cy="-70" r="4.8" fill="#e9bd96" stroke="#2f3a48" stroke-width="2"/><ellipse cx="2" cy="-133" rx="10" ry="12" fill="#e9bd96" stroke="#2f3a48" stroke-width="2.2"/><path d="M-7,-131 Q-10,-147 3,-146 Q13,-146 12,-138 L4,-138 Q-1,-135 -2,-129 Z" fill="#b88458" stroke="#2f3a48" stroke-width="2"/></g>
<path d="M387,458 L387,454 Q387,450 391,450 L409,450 Q413,450 413,454 L413,481 Q413,485 409,485 L391,485 Q387,485 387,481 L387,477" fill="none" stroke="#8e949b" stroke-width="2.8"/><line x1="376" y1="467.5" x2="404" y2="467.5" stroke="#8e949b" stroke-width="2.8"/><polyline points="395,459.5 404,467.5 395,475.5" fill="none" stroke="#8e949b" stroke-width="2.8"/>
<path d="M390,512 Q412,520 423.2,537.1" fill="none" stroke="#3a424c" stroke-width="15.6"/><path d="M390,512 Q412,520 423.2,537.1" fill="none" stroke="#a5adba" stroke-width="11"/><polygon points="410.4,546.3 437,550 431.6,523.7" fill="#a5adba" stroke="#3a424c" stroke-width="2.3" stroke-linejoin="miter"/><path d="M418.8,532.9 L424.6,538.4" stroke="#a5adba" stroke-width="11"/>
<path d="M1128,458 L1128,454 Q1128,450 1132,450 L1150,450 Q1154,450 1154,454 L1154,481 Q1154,485 1150,485 L1132,485 Q1128,485 1128,481 L1128,477" fill="none" stroke="#9a9fa5" stroke-width="2.8"/><line x1="1117" y1="467.5" x2="1145" y2="467.5" stroke="#9a9fa5" stroke-width="2.8"/><polyline points="1136,459.5 1145,467.5 1136,475.5" fill="none" stroke="#9a9fa5" stroke-width="2.8"/>
<path d="M1131,512 Q1153,520 1161.2,536.1" fill="none" stroke="#3a424c" stroke-width="15.6"/><path d="M1131,512 Q1153,520 1161.2,536.1" fill="none" stroke="#a9bca9" stroke-width="11"/><polygon points="1148.4,545.3 1176,550 1169.6,522.7" fill="#a9bca9" stroke="#3a424c" stroke-width="2.3" stroke-linejoin="miter"/><path d="M1156.8,531.9 L1162.6,537.4" stroke="#a9bca9" stroke-width="11"/>
<polygon transform="translate(1450,623) rotate(-0.95)" points="0,-8.0 38.00833275470999,-8.0 38.00833275470999,-17.0 60.00833275470999,0 38.00833275470999,17.0 38.00833275470999,8.0 0,8.0" fill="#f5c9a1" stroke="#3a424c" stroke-width="2.3" stroke-linejoin="miter"/>
<path d="M388,901 L388,897 Q388,893 392,893 L410,893 Q414,893 414,897 L414,926 Q414,930 410,930 L392,930 Q388,930 388,926 L388,922" fill="none" stroke="#9aa0a6" stroke-width="2.8"/><line x1="376" y1="911.5" x2="405" y2="911.5" stroke="#9aa0a6" stroke-width="2.8"/><polyline points="396,903.5 405,911.5 396,919.5" fill="none" stroke="#9aa0a6" stroke-width="2.8"/>
<path d="M389,866 Q406,852 422.2,842.9" fill="none" stroke="#3a424c" stroke-width="15.6"/><path d="M389,866 Q406,852 422.2,842.9" fill="none" stroke="#a5adba" stroke-width="11"/><polygon points="430.6,856.3 437,829 409.4,833.7" fill="#a5adba" stroke="#3a424c" stroke-width="2.3" stroke-linejoin="miter"/><path d="M417.8,847.1 L423.6,841.6" stroke="#a5adba" stroke-width="11"/>
<path d="M1054,901 L1054,897 Q1054,893 1058,893 L1076,893 Q1080,893 1080,897 L1080,926 Q1080,930 1076,930 L1058,930 Q1054,930 1054,926 L1054,922" fill="none" stroke="#e8c6a6" stroke-width="2.8"/><line x1="1042" y1="911.5" x2="1071" y2="911.5" stroke="#e8c6a6" stroke-width="2.8"/><polyline points="1062,903.5 1071,911.5 1062,919.5" fill="none" stroke="#e8c6a6" stroke-width="2.8"/>
<path d="M1043,866 Q1060,852 1075.2,843.9" fill="none" stroke="#3a424c" stroke-width="15.6"/><path d="M1043,866 Q1060,852 1075.2,843.9" fill="none" stroke="#f5cba5" stroke-width="11"/><polygon points="1083.6,857.3 1091,829 1062.4,834.7" fill="#f5cba5" stroke="#3a424c" stroke-width="2.3" stroke-linejoin="miter"/><path d="M1070.8,848.1 L1076.6,842.6" stroke="#f5cba5" stroke-width="11"/>
<clipPath id="p1clip"><rect x="1287" y="358" width="345" height="145"/></clipPath>
<g clip-path="url(#p1clip)"><g transform="translate(1353,551) scale(1.2)"><path d="M-14,-110 L-20,-90 L-24,-69" fill="none" stroke="#2f3a48" stroke-width="13.0" stroke-linecap="round" stroke-linejoin="round"/><path d="M-14,-110 L-20,-90 L-24,-69" fill="none" stroke="#f6cba8" stroke-width="8.5" stroke-linecap="round" stroke-linejoin="round"/><circle cx="-24" cy="-65" r="4.8" fill="#8c6a52" stroke="#2f3a48" stroke-width="2"/><path d="M-7,-76 L-11,-40 L-15,-9" fill="none" stroke="#2f3a48" stroke-width="16.0" stroke-linecap="round" stroke-linejoin="round"/><path d="M-7,-76 L-11,-40 L-15,-9" fill="none" stroke="#f2bf92" stroke-width="11.5" stroke-linecap="round" stroke-linejoin="round"/><path d="M-22,-9 L-9,-9 L-8,0 L-24,0 Z" fill="#6b7688" stroke="#2f3a48" stroke-width="2.2" stroke-linejoin="round"/><path d="M7,-76 L9,-40 L12,-9" fill="none" stroke="#2f3a48" stroke-width="16.0" stroke-linecap="round" stroke-linejoin="round"/><path d="M7,-76 L9,-40 L12,-9" fill="none" stroke="#f2bf92" stroke-width="11.5" stroke-linecap="round" stroke-linejoin="round"/><path d="M5,-9 L16,-9 L22,-2 L22,0 L5,0 Z" fill="#6b7688" stroke="#2f3a48" stroke-width="2.2" stroke-linejoin="round"/><path d="M-17,-116 Q0,-123 17,-116 L14,-76 L-14,-76 Z" fill="#f6cba8" stroke="#2f3a48" stroke-width="2.3" stroke-linejoin="round"/><line x1="-14" y1="-76" x2="14" y2="-76" stroke="#2f3a48" stroke-width="2.5"/><path d="M13,-110 L24,-97 L40,-93" fill="none" stroke="#2f3a48" stroke-width="13.0" stroke-linecap="round" stroke-linejoin="round"/><path d="M13,-110 L24,-97 L40,-93" fill="none" stroke="#f6cba8" stroke-width="8.5" stroke-linecap="round" stroke-linejoin="round"/><circle cx="44" cy="-93" r="4.8" fill="#8c6a52" stroke="#2f3a48" stroke-width="2"/><path d="M4,-150 Q-16,-150 -13,-130 L-13,-122 L0,-122 L1,-136 Z" fill="#8c6a52" stroke="#2f3a48" stroke-width="2" stroke-linejoin="round"/><ellipse cx="1" cy="-136" rx="11" ry="13" fill="#8c6a52" stroke="#2f3a48" stroke-width="2.2"/><path d="M-10,-133 Q-11,-150 2,-150 Q13,-150 12,-141 Q3,-144 -2,-137 L-3,-131 Z" fill="#8c6a52" stroke="#2f3a48" stroke-width="2"/></g></g>
<rect x="1309" y="450" width="32" height="29" rx="2" transform="rotate(-8 1325 464)" fill="#eef0f2" stroke="#3a424c" stroke-width="2"/>
<g transform="translate(1575,1240) scale(1.02)"><path d="M-14,-110 L-20,-90 L-24,-69" fill="none" stroke="#2f3a48" stroke-width="13.0" stroke-linecap="round" stroke-linejoin="round"/><path d="M-14,-110 L-20,-90 L-24,-69" fill="none" stroke="#f6cba8" stroke-width="8.5" stroke-linecap="round" stroke-linejoin="round"/><circle cx="-24" cy="-65" r="4.8" fill="#8c6a52" stroke="#2f3a48" stroke-width="2"/><path d="M-7,-76 L-11,-40 L-15,-9" fill="none" stroke="#2f3a48" stroke-width="16.0" stroke-linecap="round" stroke-linejoin="round"/><path d="M-7,-76 L-11,-40 L-15,-9" fill="none" stroke="#f2bf92" stroke-width="11.5" stroke-linecap="round" stroke-linejoin="round"/><path d="M-22,-9 L-9,-9 L-8,0 L-24,0 Z" fill="#6b7688" stroke="#2f3a48" stroke-width="2.2" stroke-linejoin="round"/><path d="M7,-76 L9,-40 L12,-9" fill="none" stroke="#2f3a48" stroke-width="16.0" stroke-linecap="round" stroke-linejoin="round"/><path d="M7,-76 L9,-40 L12,-9" fill="none" stroke="#f2bf92" stroke-width="11.5" stroke-linecap="round" stroke-linejoin="round"/><path d="M5,-9 L16,-9 L22,-2 L22,0 L5,0 Z" fill="#6b7688" stroke="#2f3a48" stroke-width="2.2" stroke-linejoin="round"/><path d="M-17,-116 Q0,-123 17,-116 L14,-76 L-14,-76 Z" fill="#f6cba8" stroke="#2f3a48" stroke-width="2.3" stroke-linejoin="round"/><line x1="-14" y1="-76" x2="14" y2="-76" stroke="#2f3a48" stroke-width="2.5"/><path d="M13,-110 L24,-97 L40,-93" fill="none" stroke="#2f3a48" stroke-width="13.0" stroke-linecap="round" stroke-linejoin="round"/><path d="M13,-110 L24,-97 L40,-93" fill="none" stroke="#f6cba8" stroke-width="8.5" stroke-linecap="round" stroke-linejoin="round"/><circle cx="44" cy="-93" r="4.8" fill="#8c6a52" stroke="#2f3a48" stroke-width="2"/><path d="M4,-150 Q-16,-150 -13,-130 L-13,-122 L0,-122 L1,-136 Z" fill="#a77a55" stroke="#2f3a48" stroke-width="2" stroke-linejoin="round"/><ellipse cx="1" cy="-136" rx="11" ry="13" fill="#8c6a52" stroke="#2f3a48" stroke-width="2.2"/><path d="M-10,-133 Q-11,-150 2,-150 Q13,-150 12,-141 Q3,-144 -2,-137 L-3,-131 Z" fill="#a77a55" stroke="#2f3a48" stroke-width="2"/></g>
</svg></body></html>
